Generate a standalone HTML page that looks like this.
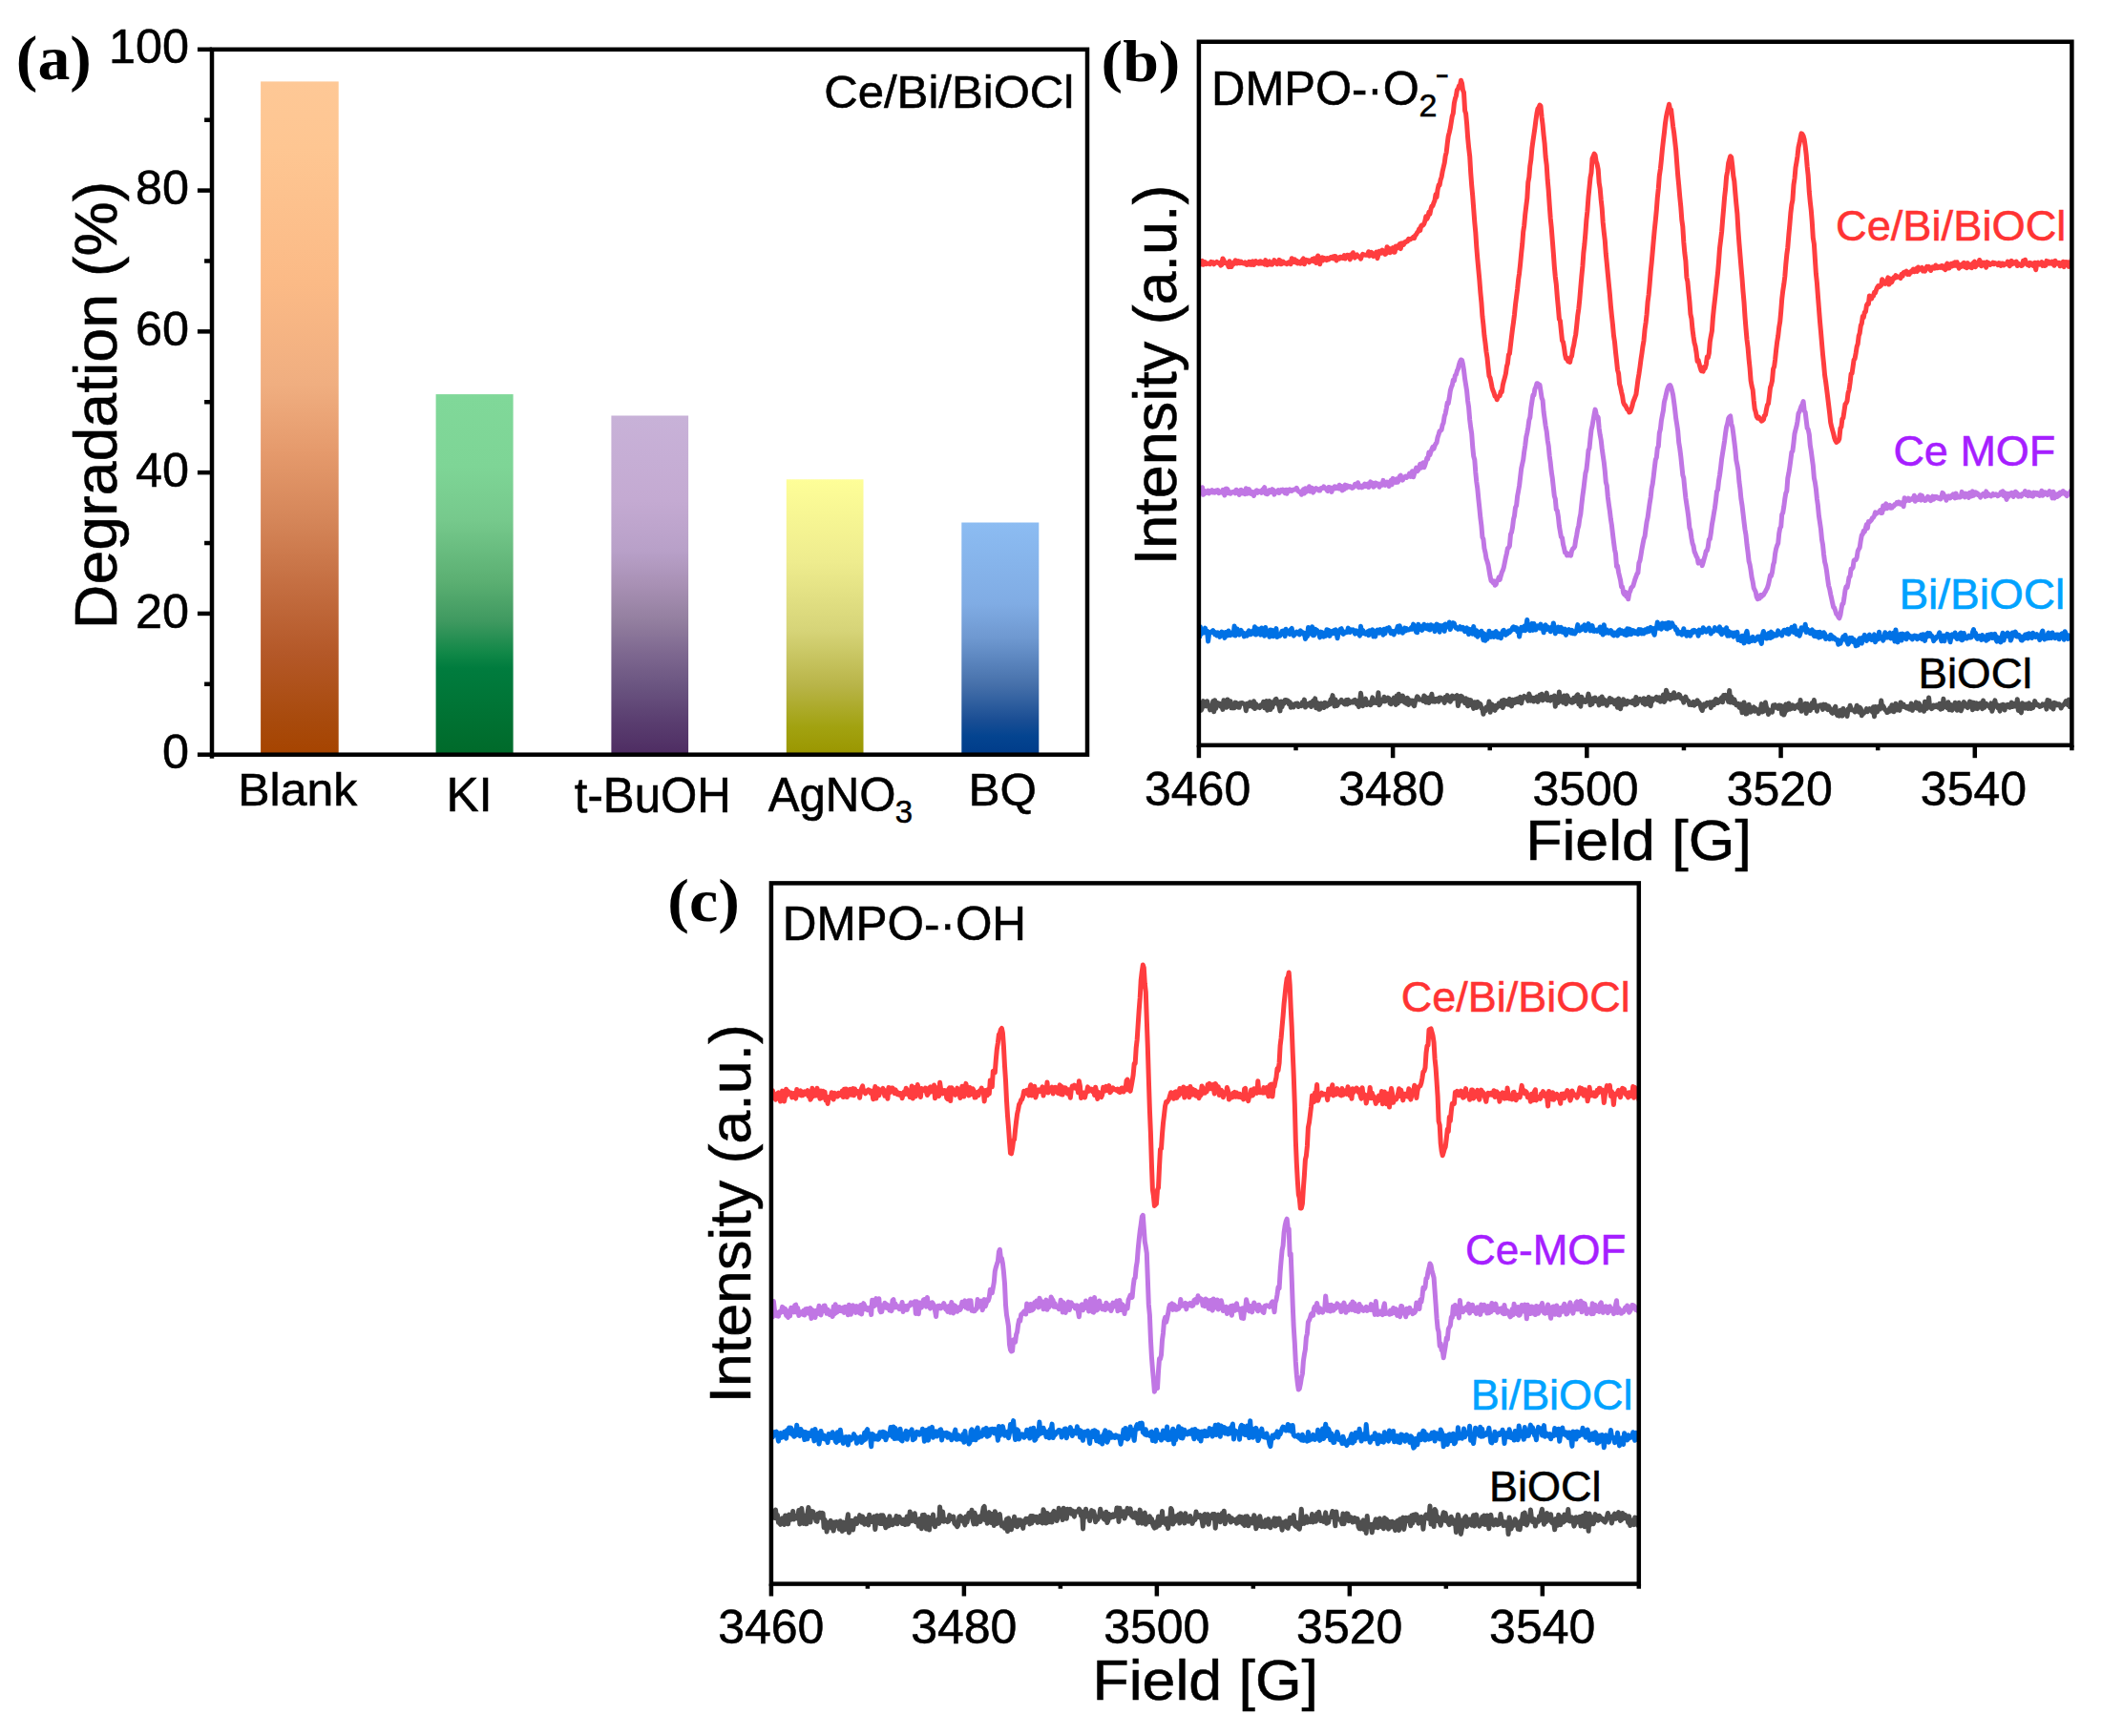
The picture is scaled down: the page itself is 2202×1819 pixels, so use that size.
<!DOCTYPE html>
<html><head><meta charset="utf-8"><title>Figure</title>
<style>html,body{margin:0;padding:0;background:#fff;}svg{display:block;}</style></head>
<body><svg width="2202" height="1819" viewBox="0 0 2202 1819">
<defs><linearGradient id="g0" x1="0" y1="0" x2="0" y2="1"><stop offset="0.000" stop-color="#FEC896"/><stop offset="0.100" stop-color="#FEC692"/><stop offset="0.300" stop-color="#FBBA86"/><stop offset="0.450" stop-color="#F0AE80"/><stop offset="0.550" stop-color="#E59A6C"/><stop offset="0.650" stop-color="#D58659"/><stop offset="0.750" stop-color="#C46E41"/><stop offset="0.850" stop-color="#B45828"/><stop offset="0.950" stop-color="#A84A0C"/><stop offset="1.000" stop-color="#A64400"/></linearGradient><linearGradient id="g1" x1="0" y1="0" x2="0" y2="1"><stop offset="0.000" stop-color="#80D899"/><stop offset="0.200" stop-color="#7ED596"/><stop offset="0.350" stop-color="#76C98C"/><stop offset="0.520" stop-color="#5BAF72"/><stop offset="0.630" stop-color="#3F9960"/><stop offset="0.720" stop-color="#108747"/><stop offset="0.760" stop-color="#007C3E"/><stop offset="1.000" stop-color="#006A2A"/></linearGradient><linearGradient id="g2" x1="0" y1="0" x2="0" y2="1"><stop offset="0.000" stop-color="#C8B2D8"/><stop offset="0.250" stop-color="#C4AAD2"/><stop offset="0.400" stop-color="#B8A0C8"/><stop offset="0.500" stop-color="#A890B4"/><stop offset="0.600" stop-color="#9480A0"/><stop offset="0.700" stop-color="#7E6890"/><stop offset="0.800" stop-color="#6A5480"/><stop offset="0.900" stop-color="#5A3E70"/><stop offset="1.000" stop-color="#4E2C62"/></linearGradient><linearGradient id="g3" x1="0" y1="0" x2="0" y2="1"><stop offset="0.000" stop-color="#FEFE98"/><stop offset="0.300" stop-color="#EEEC8E"/><stop offset="0.550" stop-color="#D6D478"/><stop offset="0.750" stop-color="#B8B448"/><stop offset="0.900" stop-color="#A2A210"/><stop offset="1.000" stop-color="#9A9600"/></linearGradient><linearGradient id="g4" x1="0" y1="0" x2="0" y2="1"><stop offset="0.000" stop-color="#8CBCF2"/><stop offset="0.350" stop-color="#80ACE4"/><stop offset="0.500" stop-color="#6E98D0"/><stop offset="0.700" stop-color="#4670AA"/><stop offset="0.850" stop-color="#1A4E94"/><stop offset="0.920" stop-color="#044490"/><stop offset="1.000" stop-color="#003C8A"/></linearGradient><clipPath id="cb"><rect x="1255.9" y="43.75" width="914.5" height="737.1"/></clipPath><clipPath id="cc"><rect x="807.9" y="925.4" width="908.9" height="734.1999999999999"/></clipPath></defs>
<rect width="2202" height="1819" fill="#fff"/>
<rect x="273.1" y="85.4" width="81.60" height="705.30" fill="url(#g0)"/>
<rect x="456.6" y="413.1" width="81.00" height="377.60" fill="url(#g1)"/>
<rect x="640.4" y="435.5" width="80.70" height="355.20" fill="url(#g2)"/>
<rect x="823.8" y="502.3" width="80.70" height="288.40" fill="url(#g3)"/>
<rect x="1007.3" y="547.5" width="81.00" height="243.20" fill="url(#g4)"/>
<rect x="222.0" y="51.8" width="917.0" height="738.9000000000001" fill="none" stroke="#000" stroke-width="4.5"/>
<line x1="222.00" y1="790.70" x2="222.00" y2="794.70" stroke="#000" stroke-width="4.5" stroke-linecap="butt"/>
<line x1="206.90" y1="790.70" x2="222.00" y2="790.70" stroke="#000" stroke-width="4.5" stroke-linecap="butt"/>
<text x="198.00" y="805.30" font-family='"Liberation Sans", Arial, sans-serif' font-size="50.4" text-anchor="end" fill="#000" font-weight="normal" stroke="#000" stroke-width="0.55" >0</text>
<line x1="206.90" y1="642.92" x2="222.00" y2="642.92" stroke="#000" stroke-width="4.5" stroke-linecap="butt"/>
<text x="198.00" y="657.52" font-family='"Liberation Sans", Arial, sans-serif' font-size="50.4" text-anchor="end" fill="#000" font-weight="normal" stroke="#000" stroke-width="0.55" >20</text>
<line x1="206.90" y1="495.14" x2="222.00" y2="495.14" stroke="#000" stroke-width="4.5" stroke-linecap="butt"/>
<text x="198.00" y="509.74" font-family='"Liberation Sans", Arial, sans-serif' font-size="50.4" text-anchor="end" fill="#000" font-weight="normal" stroke="#000" stroke-width="0.55" >40</text>
<line x1="206.90" y1="347.36" x2="222.00" y2="347.36" stroke="#000" stroke-width="4.5" stroke-linecap="butt"/>
<text x="198.00" y="361.96" font-family='"Liberation Sans", Arial, sans-serif' font-size="50.4" text-anchor="end" fill="#000" font-weight="normal" stroke="#000" stroke-width="0.55" >60</text>
<line x1="206.90" y1="199.58" x2="222.00" y2="199.58" stroke="#000" stroke-width="4.5" stroke-linecap="butt"/>
<text x="198.00" y="214.18" font-family='"Liberation Sans", Arial, sans-serif' font-size="50.4" text-anchor="end" fill="#000" font-weight="normal" stroke="#000" stroke-width="0.55" >80</text>
<line x1="206.90" y1="51.80" x2="222.00" y2="51.80" stroke="#000" stroke-width="4.5" stroke-linecap="butt"/>
<text x="198.00" y="66.40" font-family='"Liberation Sans", Arial, sans-serif' font-size="50.4" text-anchor="end" fill="#000" font-weight="normal" stroke="#000" stroke-width="0.55" >100</text>
<line x1="214.10" y1="716.81" x2="222.00" y2="716.81" stroke="#000" stroke-width="4.5" stroke-linecap="butt"/>
<line x1="214.10" y1="569.03" x2="222.00" y2="569.03" stroke="#000" stroke-width="4.5" stroke-linecap="butt"/>
<line x1="214.10" y1="421.25" x2="222.00" y2="421.25" stroke="#000" stroke-width="4.5" stroke-linecap="butt"/>
<line x1="214.10" y1="273.47" x2="222.00" y2="273.47" stroke="#000" stroke-width="4.5" stroke-linecap="butt"/>
<line x1="214.10" y1="125.69" x2="222.00" y2="125.69" stroke="#000" stroke-width="4.5" stroke-linecap="butt"/>
<polyline points="1256.4,737.6 1257.4,738.9 1258.4,744.2 1259.5,741.3 1260.5,734.6 1261.5,739.4 1262.5,737.6 1263.5,739.8 1264.6,734.7 1265.6,740.0 1266.6,740.0 1267.6,743.9 1268.6,740.2 1269.6,740.8 1270.7,734.9 1271.7,745.8 1272.7,733.7 1273.7,742.4 1274.7,738.3 1275.8,736.6 1276.8,737.3 1277.8,737.2 1278.8,740.3 1279.8,738.8 1280.9,743.4 1281.9,733.8 1282.9,739.1 1283.9,736.5 1284.9,741.3 1285.9,732.9 1287.0,738.0 1288.0,739.6 1289.0,734.7 1290.0,741.8 1291.0,739.5 1292.1,741.9 1293.1,741.7 1294.1,736.1 1295.1,736.6 1296.1,738.3 1297.2,741.0 1298.2,741.3 1299.2,736.7 1300.2,737.0 1301.2,736.5 1302.3,737.1 1303.3,738.0 1304.3,738.3 1305.3,744.7 1306.3,737.2 1307.3,737.8 1308.4,740.0 1309.4,735.8 1310.4,737.5 1311.4,738.6 1312.4,740.8 1313.5,734.7 1314.5,742.5 1315.5,737.4 1316.5,738.9 1317.5,740.9 1318.6,740.3 1319.6,741.5 1320.6,738.9 1321.6,738.3 1322.6,739.2 1323.6,735.4 1324.7,741.8 1325.7,736.0 1326.7,734.6 1327.7,744.2 1328.7,737.8 1329.8,734.7 1330.8,743.5 1331.8,737.1 1332.8,741.2 1333.8,735.6 1334.9,737.3 1335.9,733.1 1336.9,732.4 1337.9,735.1 1338.9,737.7 1340.0,740.2 1341.0,744.9 1342.0,734.9 1343.0,740.7 1344.0,736.0 1345.0,737.3 1346.1,733.4 1347.1,733.4 1348.1,735.4 1349.1,734.2 1350.1,737.6 1351.2,735.6 1352.2,741.2 1353.2,738.0 1354.2,738.0 1355.2,740.8 1356.3,739.0 1357.3,737.3 1358.3,737.2 1359.3,737.0 1360.3,740.5 1361.3,739.6 1362.4,738.4 1363.4,739.6 1364.4,735.7 1365.4,738.7 1366.4,733.1 1367.5,741.1 1368.5,737.4 1369.5,737.7 1370.5,738.8 1371.5,737.0 1372.6,736.3 1373.6,740.5 1374.6,737.3 1375.6,734.3 1376.6,738.2 1377.7,731.9 1378.7,741.7 1379.7,736.3 1380.7,736.9 1381.7,743.3 1382.7,743.0 1383.8,737.0 1384.8,738.5 1385.8,739.8 1386.8,741.5 1387.8,736.2 1388.9,736.9 1389.9,740.0 1390.9,737.2 1391.9,738.6 1392.9,738.1 1394.0,733.0 1395.0,733.8 1396.0,728.6 1397.0,735.4 1398.0,740.0 1399.0,732.9 1400.1,739.6 1401.1,738.9 1402.1,735.8 1403.1,735.9 1404.1,736.1 1405.2,733.3 1406.2,735.0 1407.2,735.6 1408.2,737.5 1409.2,738.0 1410.3,733.5 1411.3,738.0 1412.3,733.3 1413.3,735.0 1414.3,736.5 1415.3,735.3 1416.4,735.0 1417.4,736.1 1418.4,733.7 1419.4,733.3 1420.4,734.6 1421.5,737.9 1422.5,734.8 1423.5,740.6 1424.5,735.6 1425.5,726.3 1426.6,733.6 1427.6,739.7 1428.6,734.8 1429.6,733.5 1430.6,732.2 1431.7,738.5 1432.7,737.5 1433.7,736.5 1434.7,735.8 1435.7,738.7 1436.7,736.9 1437.8,730.9 1438.8,736.6 1439.8,734.8 1440.8,734.0 1441.8,736.5 1442.9,734.3 1443.9,725.7 1444.9,738.7 1445.9,737.1 1446.9,733.7 1448.0,733.0 1449.0,734.7 1450.0,730.3 1451.0,734.9 1452.0,733.3 1453.0,732.9 1454.1,731.2 1455.1,731.9 1456.1,737.0 1457.1,737.7 1458.1,735.2 1459.2,733.6 1460.2,731.2 1461.2,735.8 1462.2,738.4 1463.2,729.0 1464.3,737.0 1465.3,727.3 1466.3,732.6 1467.3,734.7 1468.3,729.6 1469.4,729.1 1470.4,734.1 1471.4,736.0 1472.4,732.1 1473.4,737.3 1474.4,731.2 1475.5,738.5 1476.5,733.7 1477.5,734.0 1478.5,735.1 1479.5,734.2 1480.6,738.6 1481.6,739.7 1482.6,734.8 1483.6,732.7 1484.6,729.8 1485.7,731.0 1486.7,733.1 1487.7,732.8 1488.7,732.9 1489.7,733.0 1490.7,734.4 1491.8,729.0 1492.8,729.9 1493.8,736.1 1494.8,735.3 1495.8,731.2 1496.9,736.5 1497.9,730.7 1498.9,731.9 1499.9,727.3 1500.9,734.9 1502.0,732.3 1503.0,735.3 1504.0,734.1 1505.0,732.2 1506.0,732.2 1507.1,735.1 1508.1,731.0 1509.1,730.9 1510.1,731.4 1511.1,733.3 1512.1,733.5 1513.2,736.3 1514.2,730.4 1515.2,734.2 1516.2,728.6 1517.2,732.1 1518.3,730.7 1519.3,735.3 1520.3,732.1 1521.3,729.1 1522.3,732.2 1523.4,731.6 1524.4,729.9 1525.4,730.2 1526.4,728.6 1527.4,739.6 1528.4,732.4 1529.5,735.2 1530.5,729.3 1531.5,729.9 1532.5,733.0 1533.5,733.5 1534.6,736.6 1535.6,731.8 1536.6,736.6 1537.6,739.8 1538.6,733.1 1539.7,738.7 1540.7,733.6 1541.7,737.7 1542.7,738.1 1543.7,742.4 1544.8,735.7 1545.8,738.6 1546.8,741.5 1547.8,735.4 1548.8,739.2 1549.8,737.0 1550.9,737.9 1551.9,742.2 1552.9,742.5 1553.9,748.3 1554.9,745.0 1556.0,745.0 1557.0,740.9 1558.0,740.6 1559.0,741.9 1560.0,734.9 1561.1,746.3 1562.1,739.5 1563.1,738.2 1564.1,739.8 1565.1,743.5 1566.1,744.3 1567.2,739.4 1568.2,741.5 1569.2,739.8 1570.2,736.8 1571.2,739.8 1572.3,739.1 1573.3,734.2 1574.3,741.5 1575.3,733.4 1576.3,738.3 1577.4,734.2 1578.4,734.6 1579.4,734.6 1580.4,738.3 1581.4,732.4 1582.5,735.2 1583.5,739.9 1584.5,733.2 1585.5,734.9 1586.5,736.6 1587.5,732.8 1588.6,735.6 1589.6,732.0 1590.6,735.7 1591.6,733.6 1592.6,730.4 1593.7,736.9 1594.7,732.3 1595.7,731.5 1596.7,729.4 1597.7,730.5 1598.8,731.3 1599.8,731.9 1600.8,734.3 1601.8,727.1 1602.8,729.8 1603.8,734.1 1604.9,731.0 1605.9,731.6 1606.9,734.9 1607.9,731.2 1608.9,731.6 1610.0,730.1 1611.0,735.4 1612.0,733.4 1613.0,728.3 1614.0,732.1 1615.1,727.3 1616.1,733.9 1617.1,732.8 1618.1,730.5 1619.1,730.0 1620.2,726.1 1621.2,733.7 1622.2,731.4 1623.2,731.0 1624.2,734.2 1625.2,730.4 1626.3,730.8 1627.3,730.7 1628.3,729.0 1629.3,740.2 1630.3,732.8 1631.4,732.6 1632.4,736.4 1633.4,724.9 1634.4,734.1 1635.4,734.4 1636.5,731.7 1637.5,736.1 1638.5,729.0 1639.5,735.0 1640.5,737.7 1641.5,728.7 1642.6,731.0 1643.6,734.8 1644.6,735.2 1645.6,733.4 1646.6,736.3 1647.7,735.9 1648.7,731.2 1649.7,734.8 1650.7,731.3 1651.7,728.9 1652.8,727.8 1653.8,737.7 1654.8,734.3 1655.8,740.2 1656.8,730.2 1657.9,733.3 1658.9,735.2 1659.9,733.7 1660.9,735.5 1661.9,734.4 1662.9,732.1 1664.0,727.1 1665.0,731.0 1666.0,738.7 1667.0,735.9 1668.0,737.6 1669.1,731.9 1670.1,733.0 1671.1,731.0 1672.1,734.7 1673.1,733.8 1674.2,735.0 1675.2,738.9 1676.2,731.4 1677.2,736.0 1678.2,729.9 1679.2,737.3 1680.3,732.9 1681.3,734.1 1682.3,734.8 1683.3,739.3 1684.3,734.6 1685.4,733.3 1686.4,731.5 1687.4,735.9 1688.4,732.7 1689.4,733.9 1690.5,735.4 1691.5,737.6 1692.5,733.7 1693.5,737.9 1694.5,741.2 1695.6,731.9 1696.6,740.3 1697.6,742.7 1698.6,734.9 1699.6,738.5 1700.6,732.8 1701.7,737.9 1702.7,736.1 1703.7,738.0 1704.7,734.5 1705.7,734.8 1706.8,736.0 1707.8,735.2 1708.8,735.5 1709.8,736.7 1710.8,734.1 1711.9,736.8 1712.9,738.6 1713.9,730.4 1714.9,737.5 1715.9,734.6 1716.9,733.4 1718.0,732.5 1719.0,733.7 1720.0,733.8 1721.0,736.7 1722.0,731.8 1723.1,738.2 1724.1,732.5 1725.1,736.6 1726.1,737.5 1727.1,730.5 1728.2,736.8 1729.2,739.8 1730.2,731.9 1731.2,734.6 1732.2,732.2 1733.2,732.5 1734.3,731.5 1735.3,730.3 1736.3,733.6 1737.3,733.8 1738.3,730.9 1739.4,735.1 1740.4,733.6 1741.4,732.3 1742.4,728.0 1743.4,735.4 1744.5,733.5 1745.5,723.3 1746.5,726.2 1747.5,727.9 1748.5,732.0 1749.6,732.8 1750.6,728.3 1751.6,729.9 1752.6,731.3 1753.6,725.7 1754.6,731.4 1755.7,729.0 1756.7,730.7 1757.7,730.4 1758.7,727.5 1759.7,728.4 1760.8,731.8 1761.8,732.5 1762.8,731.8 1763.8,736.1 1764.8,732.3 1765.9,730.2 1766.9,733.1 1767.9,733.9 1768.9,734.4 1769.9,738.4 1770.9,736.7 1772.0,738.5 1773.0,737.5 1774.0,735.4 1775.0,739.1 1776.0,735.6 1777.1,737.3 1778.1,733.8 1779.1,737.2 1780.1,736.2 1781.1,738.4 1782.2,742.8 1783.2,744.5 1784.2,740.7 1785.2,737.8 1786.2,740.3 1787.3,738.7 1788.3,736.3 1789.3,737.8 1790.3,737.2 1791.3,736.0 1792.3,741.6 1793.4,735.8 1794.4,735.6 1795.4,738.7 1796.4,734.3 1797.4,732.6 1798.5,733.1 1799.5,736.5 1800.5,735.8 1801.5,735.1 1802.5,732.5 1803.6,730.8 1804.6,735.7 1805.6,728.6 1806.6,731.8 1807.6,728.4 1808.6,730.8 1809.7,731.4 1810.7,735.3 1811.7,723.4 1812.7,736.0 1813.7,729.9 1814.8,734.0 1815.8,736.4 1816.8,732.8 1817.8,735.9 1818.8,738.7 1819.9,738.1 1820.9,737.4 1821.9,741.1 1822.9,741.8 1823.9,737.9 1825.0,746.7 1826.0,743.7 1827.0,736.1 1828.0,740.7 1829.0,748.1 1830.0,747.7 1831.1,743.9 1832.1,738.2 1833.1,742.4 1834.1,746.1 1835.1,744.2 1836.2,742.0 1837.2,740.8 1838.2,745.3 1839.2,742.3 1840.2,743.8 1841.3,744.3 1842.3,747.6 1843.3,743.3 1844.3,743.5 1845.3,737.6 1846.3,745.9 1847.4,745.3 1848.4,742.6 1849.4,736.0 1850.4,740.9 1851.4,742.7 1852.5,748.5 1853.5,744.1 1854.5,744.7 1855.5,744.7 1856.5,746.2 1857.6,738.9 1858.6,739.7 1859.6,738.7 1860.6,741.3 1861.6,741.0 1862.7,742.3 1863.7,739.0 1864.7,742.1 1865.7,739.3 1866.7,747.9 1867.7,740.2 1868.8,749.1 1869.8,746.4 1870.8,738.1 1871.8,744.3 1872.8,743.3 1873.9,737.0 1874.9,743.2 1875.9,741.1 1876.9,742.3 1877.9,738.8 1879.0,741.0 1880.0,742.4 1881.0,740.6 1882.0,739.3 1883.0,740.6 1884.0,738.2 1885.1,742.0 1886.1,733.5 1887.1,745.3 1888.1,741.1 1889.1,742.2 1890.2,743.3 1891.2,737.2 1892.2,747.4 1893.2,737.5 1894.2,742.1 1895.3,741.7 1896.3,744.5 1897.3,740.7 1898.3,736.6 1899.3,741.6 1900.4,733.5 1901.4,740.1 1902.4,739.3 1903.4,745.2 1904.4,740.0 1905.4,739.6 1906.5,738.9 1907.5,738.8 1908.5,739.9 1909.5,743.4 1910.5,738.1 1911.6,741.6 1912.6,738.3 1913.6,742.3 1914.6,743.6 1915.6,739.8 1916.7,742.0 1917.7,744.3 1918.7,746.5 1919.7,747.3 1920.7,744.4 1921.7,742.1 1922.8,740.4 1923.8,747.6 1924.8,749.5 1925.8,746.6 1926.8,750.1 1927.9,744.3 1928.9,744.5 1929.9,750.1 1930.9,742.6 1931.9,747.3 1933.0,746.6 1934.0,745.9 1935.0,750.5 1936.0,742.9 1937.0,744.1 1938.1,739.3 1939.1,742.2 1940.1,743.8 1941.1,744.1 1942.1,744.5 1943.1,745.9 1944.2,743.1 1945.2,739.2 1946.2,745.3 1947.2,746.0 1948.2,741.3 1949.3,742.4 1950.3,749.7 1951.3,747.5 1952.3,747.6 1953.3,746.3 1954.4,744.7 1955.4,742.7 1956.4,745.7 1957.4,743.4 1958.4,742.6 1959.4,743.7 1960.5,743.5 1961.5,746.2 1962.5,740.7 1963.5,750.7 1964.5,740.4 1965.6,742.0 1966.6,745.9 1967.6,740.6 1968.6,741.5 1969.6,742.9 1970.7,734.1 1971.7,741.1 1972.7,739.7 1973.7,741.7 1974.7,743.8 1975.8,744.1 1976.8,746.5 1977.8,746.3 1978.8,745.0 1979.8,741.8 1980.8,744.9 1981.9,738.8 1982.9,741.4 1983.9,745.8 1984.9,743.8 1985.9,737.3 1987.0,739.6 1988.0,743.9 1989.0,743.0 1990.0,744.3 1991.0,735.9 1992.1,737.3 1993.1,740.2 1994.1,738.1 1995.1,740.8 1996.1,740.9 1997.1,741.8 1998.2,740.4 1999.2,742.4 2000.2,743.0 2001.2,741.1 2002.2,737.1 2003.3,744.4 2004.3,741.3 2005.3,741.9 2006.3,741.1 2007.3,735.9 2008.4,742.3 2009.4,738.6 2010.4,737.0 2011.4,744.3 2012.4,739.6 2013.5,741.3 2014.5,743.1 2015.5,745.2 2016.5,735.2 2017.5,738.3 2018.5,742.4 2019.6,738.5 2020.6,730.9 2021.6,740.8 2022.6,741.0 2023.6,742.7 2024.7,741.0 2025.7,739.0 2026.7,740.9 2027.7,740.2 2028.7,738.8 2029.8,741.0 2030.8,741.3 2031.8,737.3 2032.8,743.2 2033.8,742.6 2034.8,742.5 2035.9,732.2 2036.9,740.5 2037.9,739.8 2038.9,737.2 2039.9,741.8 2041.0,735.7 2042.0,743.7 2043.0,741.2 2044.0,738.6 2045.0,744.2 2046.1,741.4 2047.1,741.0 2048.1,736.2 2049.1,741.6 2050.1,744.1 2051.1,743.2 2052.2,736.2 2053.2,744.0 2054.2,744.7 2055.2,742.4 2056.2,738.8 2057.3,735.5 2058.3,737.3 2059.3,738.2 2060.3,740.7 2061.3,741.5 2062.4,737.7 2063.4,735.0 2064.4,738.6 2065.4,735.9 2066.4,743.7 2067.5,736.2 2068.5,741.1 2069.5,742.1 2070.5,736.8 2071.5,742.6 2072.5,739.2 2073.6,737.3 2074.6,736.9 2075.6,739.9 2076.6,742.7 2077.6,734.0 2078.7,741.4 2079.7,739.1 2080.7,737.3 2081.7,739.2 2082.7,739.5 2083.8,739.4 2084.8,741.9 2085.8,736.9 2086.8,745.3 2087.8,742.1 2088.8,737.8 2089.9,733.9 2090.9,739.4 2091.9,738.3 2092.9,741.7 2093.9,741.6 2095.0,745.1 2096.0,739.1 2097.0,741.8 2098.0,738.2 2099.0,738.4 2100.1,744.0 2101.1,739.1 2102.1,739.2 2103.1,738.4 2104.1,740.4 2105.2,741.2 2106.2,739.1 2107.2,736.1 2108.2,740.5 2109.2,737.1 2110.2,738.4 2111.3,740.1 2112.3,740.2 2113.3,732.7 2114.3,744.4 2115.3,741.8 2116.4,745.1 2117.4,746.8 2118.4,736.7 2119.4,737.8 2120.4,740.1 2121.5,742.1 2122.5,737.9 2123.5,738.5 2124.5,742.5 2125.5,736.8 2126.5,740.0 2127.6,742.5 2128.6,738.6 2129.6,741.6 2130.6,739.0 2131.6,734.6 2132.7,737.7 2133.7,738.7 2134.7,738.2 2135.7,739.3 2136.7,740.4 2137.8,740.0 2138.8,739.7 2139.8,737.9 2140.8,738.5 2141.8,738.0 2142.9,737.4 2143.9,743.1 2144.9,733.5 2145.9,739.7 2146.9,734.3 2147.9,737.3 2149.0,741.3 2150.0,738.1 2151.0,743.0 2152.0,736.2 2153.0,738.1 2154.1,737.1 2155.1,738.9 2156.1,737.9 2157.1,737.7 2158.1,739.1 2159.2,742.0 2160.2,739.2 2161.2,738.9 2162.2,737.9 2163.2,736.7 2164.2,734.5 2165.3,735.6 2166.3,738.8 2167.3,733.1 2168.3,740.6 2169.3,737.4 2170.4,735.9 2171.4,737.0 2172.4,740.5" fill="none" stroke="#4F4F4F" stroke-width="5.0" stroke-linejoin="round" clip-path="url(#cb)"/>
<polyline points="1256.4,668.7 1257.4,656.8 1258.4,664.5 1259.5,661.9 1260.5,662.2 1261.5,662.8 1262.5,658.1 1263.5,662.8 1264.6,661.1 1265.6,672.0 1266.6,664.0 1267.6,662.5 1268.6,662.7 1269.6,661.6 1270.7,660.6 1271.7,662.4 1272.7,664.6 1273.7,662.8 1274.7,665.9 1275.8,662.8 1276.8,663.4 1277.8,667.4 1278.8,664.8 1279.8,662.0 1280.9,662.9 1281.9,664.8 1282.9,668.4 1283.9,662.6 1284.9,662.7 1285.9,665.9 1287.0,661.0 1288.0,662.6 1289.0,665.6 1290.0,664.8 1291.0,663.6 1292.1,665.1 1293.1,656.0 1294.1,666.0 1295.1,660.8 1296.1,659.0 1297.2,664.0 1298.2,665.1 1299.2,662.1 1300.2,660.5 1301.2,663.3 1302.3,663.1 1303.3,666.9 1304.3,665.2 1305.3,663.8 1306.3,666.1 1307.3,662.7 1308.4,660.8 1309.4,664.8 1310.4,664.7 1311.4,662.7 1312.4,661.2 1313.5,663.8 1314.5,656.7 1315.5,665.0 1316.5,664.5 1317.5,658.9 1318.6,663.4 1319.6,660.7 1320.6,665.1 1321.6,657.9 1322.6,660.8 1323.6,665.0 1324.7,666.2 1325.7,657.5 1326.7,661.9 1327.7,664.0 1328.7,661.6 1329.8,667.3 1330.8,660.0 1331.8,664.0 1332.8,660.4 1333.8,666.8 1334.9,663.0 1335.9,662.1 1336.9,658.6 1337.9,667.5 1338.9,665.0 1340.0,665.0 1341.0,666.0 1342.0,664.0 1343.0,661.4 1344.0,661.0 1345.0,661.0 1346.1,666.6 1347.1,659.2 1348.1,661.5 1349.1,662.2 1350.1,663.6 1351.2,664.5 1352.2,659.7 1353.2,658.5 1354.2,663.0 1355.2,666.1 1356.3,664.9 1357.3,663.5 1358.3,662.1 1359.3,663.7 1360.3,662.3 1361.3,665.0 1362.4,660.8 1363.4,663.2 1364.4,662.6 1365.4,664.3 1366.4,663.4 1367.5,669.5 1368.5,666.7 1369.5,666.7 1370.5,657.5 1371.5,661.9 1372.6,661.2 1373.6,664.1 1374.6,656.8 1375.6,665.8 1376.6,665.5 1377.7,659.3 1378.7,660.1 1379.7,660.6 1380.7,662.8 1381.7,664.3 1382.7,667.9 1383.8,662.1 1384.8,664.6 1385.8,663.0 1386.8,667.1 1387.8,664.5 1388.9,666.1 1389.9,659.7 1390.9,662.0 1391.9,660.3 1392.9,666.4 1394.0,664.1 1395.0,661.6 1396.0,661.2 1397.0,663.6 1398.0,660.5 1399.0,659.9 1400.1,663.5 1401.1,668.7 1402.1,661.6 1403.1,660.8 1404.1,659.2 1405.2,658.7 1406.2,663.5 1407.2,664.4 1408.2,662.1 1409.2,663.0 1410.3,662.4 1411.3,662.4 1412.3,658.1 1413.3,660.8 1414.3,662.3 1415.3,659.9 1416.4,660.7 1417.4,659.8 1418.4,661.0 1419.4,664.1 1420.4,660.8 1421.5,661.4 1422.5,663.9 1423.5,663.4 1424.5,666.1 1425.5,656.3 1426.6,663.9 1427.6,660.4 1428.6,662.0 1429.6,663.8 1430.6,664.4 1431.7,664.2 1432.7,661.9 1433.7,665.7 1434.7,660.7 1435.7,661.1 1436.7,663.5 1437.8,659.9 1438.8,666.9 1439.8,664.0 1440.8,666.9 1441.8,661.2 1442.9,660.2 1443.9,661.6 1444.9,663.1 1445.9,659.6 1446.9,662.1 1448.0,661.0 1449.0,665.2 1450.0,659.3 1451.0,663.7 1452.0,659.3 1453.0,658.4 1454.1,659.0 1455.1,657.7 1456.1,661.2 1457.1,663.4 1458.1,661.2 1459.2,662.3 1460.2,664.9 1461.2,661.3 1462.2,661.1 1463.2,659.8 1464.3,656.3 1465.3,662.4 1466.3,655.8 1467.3,662.0 1468.3,660.3 1469.4,663.2 1470.4,660.0 1471.4,658.0 1472.4,661.0 1473.4,658.6 1474.4,659.5 1475.5,660.0 1476.5,659.5 1477.5,659.3 1478.5,657.6 1479.5,659.2 1480.6,654.1 1481.6,659.2 1482.6,656.4 1483.6,662.4 1484.6,662.7 1485.7,654.2 1486.7,659.6 1487.7,658.8 1488.7,656.4 1489.7,660.4 1490.7,657.7 1491.8,654.2 1492.8,658.0 1493.8,658.2 1494.8,658.7 1495.8,655.1 1496.9,659.8 1497.9,659.9 1498.9,654.8 1499.9,655.9 1500.9,657.3 1502.0,655.8 1503.0,661.6 1504.0,657.4 1505.0,654.1 1506.0,654.5 1507.1,656.2 1508.1,662.2 1509.1,655.6 1510.1,656.2 1511.1,657.0 1512.1,655.5 1513.2,661.4 1514.2,653.9 1515.2,657.2 1516.2,655.6 1517.2,656.7 1518.3,652.0 1519.3,659.6 1520.3,654.7 1521.3,655.1 1522.3,652.7 1523.4,653.3 1524.4,656.9 1525.4,658.1 1526.4,657.8 1527.4,659.2 1528.4,658.2 1529.5,656.7 1530.5,659.1 1531.5,658.8 1532.5,657.3 1533.5,659.8 1534.6,661.6 1535.6,659.2 1536.6,658.0 1537.6,661.1 1538.6,664.5 1539.7,659.4 1540.7,660.0 1541.7,660.2 1542.7,664.1 1543.7,656.6 1544.8,662.8 1545.8,665.4 1546.8,660.7 1547.8,667.2 1548.8,665.2 1549.8,662.8 1550.9,665.2 1551.9,661.2 1552.9,664.1 1553.9,670.7 1554.9,663.9 1556.0,671.3 1557.0,666.5 1558.0,669.5 1559.0,667.1 1560.0,661.2 1561.1,665.5 1562.1,667.4 1563.1,663.8 1564.1,663.1 1565.1,667.4 1566.1,664.6 1567.2,661.6 1568.2,664.0 1569.2,667.8 1570.2,664.0 1571.2,667.4 1572.3,668.6 1573.3,664.5 1574.3,661.1 1575.3,660.3 1576.3,663.3 1577.4,665.4 1578.4,663.5 1579.4,663.9 1580.4,661.0 1581.4,662.7 1582.5,660.4 1583.5,660.5 1584.5,657.8 1585.5,656.8 1586.5,659.4 1587.5,657.6 1588.6,657.7 1589.6,661.7 1590.6,659.4 1591.6,667.0 1592.6,661.6 1593.7,657.3 1594.7,660.7 1595.7,659.4 1596.7,656.4 1597.7,660.8 1598.8,655.7 1599.8,649.5 1600.8,659.3 1601.8,655.5 1602.8,660.7 1603.8,655.0 1604.9,653.5 1605.9,660.4 1606.9,653.5 1607.9,656.7 1608.9,659.9 1610.0,656.3 1611.0,655.8 1612.0,656.3 1613.0,658.2 1614.0,654.1 1615.1,657.9 1616.1,658.0 1617.1,662.8 1618.1,656.1 1619.1,654.9 1620.2,659.5 1621.2,656.9 1622.2,659.0 1623.2,658.9 1624.2,661.8 1625.2,657.4 1626.3,659.1 1627.3,652.9 1628.3,657.5 1629.3,663.9 1630.3,658.3 1631.4,658.3 1632.4,657.1 1633.4,661.8 1634.4,660.9 1635.4,657.4 1636.5,662.3 1637.5,661.3 1638.5,662.7 1639.5,659.1 1640.5,665.4 1641.5,662.0 1642.6,660.6 1643.6,659.6 1644.6,660.4 1645.6,663.2 1646.6,660.3 1647.7,663.7 1648.7,662.2 1649.7,664.0 1650.7,662.3 1651.7,659.7 1652.8,654.6 1653.8,660.0 1654.8,660.9 1655.8,658.9 1656.8,659.6 1657.9,656.6 1658.9,656.5 1659.9,654.8 1660.9,660.7 1661.9,657.4 1662.9,655.7 1664.0,653.6 1665.0,656.7 1666.0,660.9 1667.0,658.5 1668.0,655.5 1669.1,661.2 1670.1,661.4 1671.1,660.4 1672.1,660.1 1673.1,661.3 1674.2,659.9 1675.2,660.8 1676.2,657.0 1677.2,663.1 1678.2,660.1 1679.2,665.0 1680.3,654.7 1681.3,662.1 1682.3,663.1 1683.3,659.9 1684.3,662.3 1685.4,663.3 1686.4,663.1 1687.4,660.5 1688.4,661.7 1689.4,665.0 1690.5,665.9 1691.5,663.0 1692.5,663.1 1693.5,663.6 1694.5,665.9 1695.6,660.6 1696.6,660.0 1697.6,663.8 1698.6,660.7 1699.6,662.1 1700.6,663.8 1701.7,664.8 1702.7,660.7 1703.7,665.6 1704.7,658.8 1705.7,664.7 1706.8,659.1 1707.8,659.7 1708.8,664.6 1709.8,661.7 1710.8,660.5 1711.9,661.3 1712.9,663.5 1713.9,661.9 1714.9,661.8 1715.9,664.4 1716.9,659.6 1718.0,660.0 1719.0,659.7 1720.0,663.9 1721.0,663.2 1722.0,663.8 1723.1,660.1 1724.1,659.6 1725.1,662.1 1726.1,658.6 1727.1,661.6 1728.2,661.2 1729.2,657.3 1730.2,658.8 1731.2,658.5 1732.2,663.1 1733.2,665.2 1734.3,658.0 1735.3,658.1 1736.3,652.0 1737.3,658.2 1738.3,657.5 1739.4,654.5 1740.4,659.2 1741.4,652.9 1742.4,656.2 1743.4,657.0 1744.5,653.2 1745.5,658.6 1746.5,659.0 1747.5,652.5 1748.5,652.4 1749.6,657.6 1750.6,655.9 1751.6,652.9 1752.6,655.5 1753.6,656.4 1754.6,656.9 1755.7,660.1 1756.7,659.6 1757.7,664.0 1758.7,663.6 1759.7,662.5 1760.8,664.1 1761.8,665.1 1762.8,663.8 1763.8,658.8 1764.8,664.2 1765.9,662.2 1766.9,666.2 1767.9,662.2 1768.9,663.3 1769.9,662.7 1770.9,666.2 1772.0,662.2 1773.0,661.0 1774.0,662.4 1775.0,660.4 1776.0,661.9 1777.1,661.4 1778.1,662.0 1779.1,666.3 1780.1,660.1 1781.1,661.2 1782.2,660.5 1783.2,662.7 1784.2,657.8 1785.2,659.0 1786.2,660.6 1787.3,662.0 1788.3,660.4 1789.3,659.2 1790.3,658.1 1791.3,661.7 1792.3,664.0 1793.4,661.1 1794.4,660.7 1795.4,661.3 1796.4,657.6 1797.4,659.2 1798.5,659.3 1799.5,660.8 1800.5,659.9 1801.5,656.8 1802.5,663.0 1803.6,664.6 1804.6,659.7 1805.6,661.6 1806.6,661.6 1807.6,663.3 1808.6,657.7 1809.7,666.2 1810.7,661.2 1811.7,666.1 1812.7,663.5 1813.7,662.8 1814.8,663.9 1815.8,667.1 1816.8,663.0 1817.8,664.8 1818.8,665.0 1819.9,662.3 1820.9,670.6 1821.9,669.2 1822.9,668.0 1823.9,671.5 1825.0,666.3 1826.0,668.9 1827.0,673.9 1828.0,672.2 1829.0,664.0 1830.0,661.3 1831.1,667.3 1832.1,672.8 1833.1,668.7 1834.1,669.3 1835.1,671.4 1836.2,667.4 1837.2,670.1 1838.2,671.4 1839.2,670.4 1840.2,670.0 1841.3,667.2 1842.3,669.9 1843.3,667.2 1844.3,671.4 1845.3,674.4 1846.3,665.5 1847.4,661.5 1848.4,665.8 1849.4,667.6 1850.4,669.0 1851.4,668.8 1852.5,663.7 1853.5,663.4 1854.5,668.5 1855.5,662.1 1856.5,667.5 1857.6,663.9 1858.6,666.3 1859.6,665.9 1860.6,665.9 1861.6,665.8 1862.7,660.9 1863.7,664.1 1864.7,663.2 1865.7,663.7 1866.7,665.9 1867.7,661.8 1868.8,660.5 1869.8,660.2 1870.8,661.1 1871.8,663.7 1872.8,659.4 1873.9,664.4 1874.9,661.9 1875.9,660.4 1876.9,657.4 1877.9,661.3 1879.0,662.4 1880.0,655.8 1881.0,663.4 1882.0,664.5 1883.0,661.0 1884.0,661.4 1885.1,666.3 1886.1,663.2 1887.1,657.7 1888.1,660.0 1889.1,659.7 1890.2,659.8 1891.2,654.2 1892.2,662.5 1893.2,659.1 1894.2,661.4 1895.3,660.9 1896.3,663.8 1897.3,661.0 1898.3,660.0 1899.3,663.8 1900.4,666.3 1901.4,662.1 1902.4,666.8 1903.4,664.3 1904.4,662.5 1905.4,668.1 1906.5,662.3 1907.5,667.4 1908.5,663.8 1909.5,666.7 1910.5,662.7 1911.6,664.1 1912.6,669.5 1913.6,667.6 1914.6,667.7 1915.6,666.8 1916.7,669.6 1917.7,665.2 1918.7,666.3 1919.7,669.1 1920.7,667.7 1921.7,668.3 1922.8,670.2 1923.8,670.3 1924.8,670.2 1925.8,675.3 1926.8,673.6 1927.9,674.2 1928.9,670.9 1929.9,669.7 1930.9,667.2 1931.9,670.0 1933.0,665.5 1934.0,669.3 1935.0,672.8 1936.0,674.9 1937.0,673.2 1938.1,668.4 1939.1,671.8 1940.1,668.4 1941.1,672.5 1942.1,670.0 1943.1,672.4 1944.2,676.8 1945.2,672.4 1946.2,676.0 1947.2,670.3 1948.2,668.8 1949.3,673.1 1950.3,674.0 1951.3,667.9 1952.3,669.5 1953.3,665.4 1954.4,668.5 1955.4,671.3 1956.4,668.6 1957.4,667.3 1958.4,665.0 1959.4,669.5 1960.5,670.5 1961.5,669.9 1962.5,668.9 1963.5,664.9 1964.5,672.7 1965.6,667.9 1966.6,667.6 1967.6,669.8 1968.6,662.2 1969.6,667.6 1970.7,667.3 1971.7,668.6 1972.7,671.1 1973.7,668.8 1974.7,662.8 1975.8,666.6 1976.8,668.0 1977.8,667.9 1978.8,664.2 1979.8,663.2 1980.8,668.9 1981.9,668.4 1982.9,667.4 1983.9,663.0 1984.9,672.1 1985.9,660.0 1987.0,666.6 1988.0,672.9 1989.0,667.1 1990.0,668.1 1991.0,664.4 1992.1,671.0 1993.1,664.1 1994.1,668.2 1995.1,667.9 1996.1,664.8 1997.1,669.8 1998.2,663.8 1999.2,665.7 2000.2,667.4 2001.2,666.4 2002.2,668.7 2003.3,669.9 2004.3,666.7 2005.3,666.1 2006.3,666.2 2007.3,666.5 2008.4,669.6 2009.4,666.9 2010.4,668.6 2011.4,667.3 2012.4,665.3 2013.5,669.7 2014.5,664.8 2015.5,667.5 2016.5,671.4 2017.5,664.7 2018.5,667.4 2019.6,663.4 2020.6,666.2 2021.6,663.6 2022.6,666.6 2023.6,666.1 2024.7,667.8 2025.7,671.6 2026.7,668.2 2027.7,669.2 2028.7,667.4 2029.8,666.9 2030.8,665.3 2031.8,662.8 2032.8,667.7 2033.8,671.7 2034.8,668.7 2035.9,666.1 2036.9,671.8 2037.9,666.4 2038.9,665.9 2039.9,664.3 2041.0,665.0 2042.0,666.9 2043.0,672.7 2044.0,667.0 2045.0,664.8 2046.1,665.9 2047.1,666.9 2048.1,663.0 2049.1,667.8 2050.1,669.3 2051.1,668.3 2052.2,669.1 2053.2,664.1 2054.2,663.1 2055.2,670.8 2056.2,670.3 2057.3,663.5 2058.3,668.0 2059.3,667.6 2060.3,668.9 2061.3,668.0 2062.4,666.2 2063.4,668.0 2064.4,667.9 2065.4,667.4 2066.4,662.7 2067.5,659.7 2068.5,665.4 2069.5,663.2 2070.5,668.1 2071.5,669.3 2072.5,668.1 2073.6,666.5 2074.6,667.6 2075.6,670.5 2076.6,665.5 2077.6,669.8 2078.7,669.3 2079.7,668.1 2080.7,671.2 2081.7,665.5 2082.7,669.9 2083.8,665.0 2084.8,665.4 2085.8,664.6 2086.8,668.5 2087.8,664.9 2088.8,667.5 2089.9,664.4 2090.9,670.1 2091.9,672.1 2092.9,667.9 2093.9,671.6 2095.0,668.8 2096.0,672.9 2097.0,667.6 2098.0,663.2 2099.0,671.1 2100.1,666.9 2101.1,664.6 2102.1,665.5 2103.1,663.0 2104.1,666.8 2105.2,664.4 2106.2,671.1 2107.2,668.9 2108.2,662.9 2109.2,663.2 2110.2,665.7 2111.3,662.1 2112.3,666.8 2113.3,667.0 2114.3,665.1 2115.3,665.7 2116.4,668.4 2117.4,670.8 2118.4,671.0 2119.4,667.1 2120.4,669.3 2121.5,665.1 2122.5,668.1 2123.5,664.5 2124.5,668.9 2125.5,663.8 2126.5,664.4 2127.6,666.9 2128.6,668.4 2129.6,663.2 2130.6,665.5 2131.6,667.2 2132.7,667.5 2133.7,664.7 2134.7,667.1 2135.7,666.1 2136.7,670.5 2137.8,668.2 2138.8,663.3 2139.8,661.0 2140.8,667.0 2141.8,669.8 2142.9,667.2 2143.9,669.0 2144.9,665.4 2145.9,663.1 2146.9,668.6 2147.9,666.9 2149.0,668.4 2150.0,663.0 2151.0,667.1 2152.0,665.0 2153.0,668.7 2154.1,665.0 2155.1,665.0 2156.1,665.0 2157.1,669.8 2158.1,666.6 2159.2,664.5 2160.2,663.8 2161.2,663.7 2162.2,670.2 2163.2,661.7 2164.2,664.2 2165.3,668.0 2166.3,669.4 2167.3,665.9 2168.3,668.4 2169.3,668.3 2170.4,668.8 2171.4,666.4 2172.4,670.5" fill="none" stroke="#0071E5" stroke-width="5.0" stroke-linejoin="round" clip-path="url(#cb)"/>
<polyline points="1256.4,515.4 1257.4,514.1 1258.4,514.3 1259.5,510.7 1260.5,518.3 1261.5,517.2 1262.5,514.5 1263.5,516.5 1264.6,515.6 1265.6,514.1 1266.6,516.9 1267.6,514.6 1268.6,514.6 1269.6,513.7 1270.7,516.0 1271.7,515.0 1272.7,516.2 1273.7,514.1 1274.7,515.4 1275.8,513.6 1276.8,516.7 1277.8,515.5 1278.8,515.8 1279.8,515.9 1280.9,513.4 1281.9,516.6 1282.9,518.9 1283.9,512.3 1284.9,512.1 1285.9,512.5 1287.0,516.7 1288.0,515.4 1289.0,517.2 1290.0,516.5 1291.0,515.6 1292.1,515.7 1293.1,514.9 1294.1,516.8 1295.1,513.2 1296.1,514.5 1297.2,515.7 1298.2,518.5 1299.2,513.8 1300.2,513.3 1301.2,514.2 1302.3,517.0 1303.3,514.8 1304.3,517.6 1305.3,511.8 1306.3,517.2 1307.3,517.1 1308.4,512.6 1309.4,515.5 1310.4,517.4 1311.4,515.3 1312.4,517.0 1313.5,519.4 1314.5,515.7 1315.5,514.6 1316.5,513.8 1317.5,516.3 1318.6,514.8 1319.6,514.8 1320.6,514.9 1321.6,516.3 1322.6,513.2 1323.6,512.3 1324.7,510.7 1325.7,517.2 1326.7,515.2 1327.7,517.7 1328.7,515.0 1329.8,513.7 1330.8,515.8 1331.8,514.8 1332.8,512.7 1333.8,513.4 1334.9,518.1 1335.9,515.6 1336.9,515.7 1337.9,514.4 1338.9,513.6 1340.0,516.5 1341.0,514.6 1342.0,513.5 1343.0,514.6 1344.0,513.1 1345.0,515.1 1346.1,516.7 1347.1,513.2 1348.1,517.2 1349.1,513.4 1350.1,514.8 1351.2,513.0 1352.2,514.1 1353.2,514.5 1354.2,513.6 1355.2,513.1 1356.3,513.1 1357.3,512.7 1358.3,511.3 1359.3,513.6 1360.3,514.8 1361.3,515.6 1362.4,515.1 1363.4,518.3 1364.4,514.4 1365.4,512.9 1366.4,517.0 1367.5,511.7 1368.5,515.3 1369.5,511.8 1370.5,514.1 1371.5,509.8 1372.6,514.9 1373.6,512.9 1374.6,511.4 1375.6,516.1 1376.6,514.4 1377.7,513.0 1378.7,511.6 1379.7,512.8 1380.7,512.5 1381.7,514.0 1382.7,514.1 1383.8,511.4 1384.8,511.5 1385.8,511.5 1386.8,509.9 1387.8,511.2 1388.9,512.0 1389.9,513.4 1390.9,514.4 1391.9,510.5 1392.9,512.9 1394.0,511.0 1395.0,515.4 1396.0,511.5 1397.0,512.4 1398.0,509.8 1399.0,509.9 1400.1,511.7 1401.1,510.5 1402.1,511.8 1403.1,508.2 1404.1,512.2 1405.2,509.3 1406.2,513.9 1407.2,510.2 1408.2,512.6 1409.2,508.1 1410.3,511.3 1411.3,508.8 1412.3,509.5 1413.3,510.3 1414.3,509.6 1415.3,510.6 1416.4,511.4 1417.4,511.1 1418.4,509.7 1419.4,507.4 1420.4,508.3 1421.5,509.3 1422.5,505.7 1423.5,510.8 1424.5,509.0 1425.5,508.9 1426.6,510.9 1427.6,510.3 1428.6,509.4 1429.6,507.1 1430.6,509.4 1431.7,509.4 1432.7,507.1 1433.7,510.5 1434.7,509.4 1435.7,504.9 1436.7,508.6 1437.8,506.0 1438.8,510.2 1439.8,509.5 1440.8,506.0 1441.8,506.3 1442.9,507.9 1443.9,507.2 1444.9,510.3 1445.9,508.7 1446.9,506.8 1448.0,508.2 1449.0,503.4 1450.0,507.4 1451.0,508.3 1452.0,506.2 1453.0,505.1 1454.1,507.2 1455.1,509.5 1456.1,506.1 1457.1,503.4 1458.1,507.7 1459.2,501.4 1460.2,505.3 1461.2,503.0 1462.2,505.4 1463.2,501.8 1464.3,505.3 1465.3,503.0 1466.3,499.0 1467.3,498.1 1468.3,500.7 1469.4,503.1 1470.4,500.6 1471.4,500.1 1472.4,499.1 1473.4,500.4 1474.4,499.4 1475.5,498.7 1476.5,496.0 1477.5,499.4 1478.5,499.2 1479.5,493.8 1480.6,499.7 1481.6,496.2 1482.6,493.4 1483.6,490.1 1484.6,493.8 1485.7,492.6 1486.7,489.5 1487.7,486.2 1488.7,490.3 1489.7,486.0 1490.7,485.0 1491.8,489.7 1492.8,487.2 1493.8,483.9 1494.8,480.0 1495.8,480.7 1496.9,474.0 1497.9,476.7 1498.9,473.6 1499.9,470.8 1500.9,468.4 1502.0,470.1 1503.0,467.2 1504.0,465.0 1505.0,463.9 1506.0,458.5 1507.1,455.2 1508.1,451.6 1509.1,451.3 1510.1,450.2 1511.1,445.3 1512.1,443.2 1513.2,436.1 1514.2,433.3 1515.2,428.1 1516.2,422.1 1517.2,422.7 1518.3,416.5 1519.3,409.5 1520.3,405.8 1521.3,403.6 1522.3,398.2 1523.4,398.9 1524.4,393.3 1525.4,392.4 1526.4,388.5 1527.4,386.6 1528.4,382.2 1529.5,378.9 1530.5,377.0 1531.5,377.3 1532.5,381.9 1533.5,388.0 1534.6,397.2 1535.6,403.4 1536.6,409.7 1537.6,420.1 1538.6,426.7 1539.7,440.0 1540.7,448.0 1541.7,454.4 1542.7,468.1 1543.7,478.1 1544.8,481.7 1545.8,494.9 1546.8,505.0 1547.8,511.9 1548.8,522.6 1549.8,531.7 1550.9,542.9 1551.9,550.8 1552.9,562.8 1553.9,564.8 1554.9,574.5 1556.0,579.1 1557.0,585.4 1558.0,588.2 1559.0,591.7 1560.0,597.9 1561.1,604.3 1562.1,608.7 1563.1,609.1 1564.1,610.5 1565.1,608.9 1566.1,613.2 1567.2,612.5 1568.2,608.4 1569.2,608.1 1570.2,604.8 1571.2,607.4 1572.3,603.2 1573.3,599.7 1574.3,597.7 1575.3,594.5 1576.3,589.4 1577.4,584.0 1578.4,579.8 1579.4,574.5 1580.4,573.8 1581.4,572.0 1582.5,559.8 1583.5,557.7 1584.5,552.5 1585.5,544.2 1586.5,540.3 1587.5,531.8 1588.6,529.6 1589.6,519.9 1590.6,514.6 1591.6,508.9 1592.6,500.2 1593.7,490.9 1594.7,486.3 1595.7,481.8 1596.7,473.4 1597.7,467.1 1598.8,457.9 1599.8,453.5 1600.8,447.9 1601.8,440.3 1602.8,437.4 1603.8,427.6 1604.9,420.5 1605.9,414.1 1606.9,414.1 1607.9,407.6 1608.9,405.7 1610.0,401.7 1611.0,402.0 1612.0,402.7 1613.0,403.4 1614.0,409.6 1615.1,417.0 1616.1,419.4 1617.1,431.4 1618.1,438.6 1619.1,446.1 1620.2,452.1 1621.2,461.3 1622.2,467.1 1623.2,477.6 1624.2,484.7 1625.2,494.2 1626.3,501.2 1627.3,510.5 1628.3,519.8 1629.3,522.7 1630.3,533.8 1631.4,535.3 1632.4,541.4 1633.4,551.0 1634.4,556.8 1635.4,562.6 1636.5,563.4 1637.5,570.3 1638.5,574.2 1639.5,579.1 1640.5,579.0 1641.5,581.8 1642.6,580.1 1643.6,581.9 1644.6,581.0 1645.6,582.0 1646.6,577.1 1647.7,574.9 1648.7,574.2 1649.7,572.6 1650.7,565.7 1651.7,560.7 1652.8,554.1 1653.8,550.7 1654.8,543.4 1655.8,538.8 1656.8,529.2 1657.9,519.6 1658.9,512.7 1659.9,504.1 1660.9,495.7 1661.9,492.3 1662.9,483.5 1664.0,471.9 1665.0,469.7 1666.0,459.5 1667.0,450.4 1668.0,446.4 1669.1,440.0 1670.1,434.1 1671.1,429.1 1672.1,433.6 1673.1,437.6 1674.2,437.4 1675.2,449.0 1676.2,455.8 1677.2,461.1 1678.2,469.9 1679.2,477.2 1680.3,484.5 1681.3,493.8 1682.3,505.4 1683.3,508.9 1684.3,520.5 1685.4,528.8 1686.4,535.6 1687.4,544.2 1688.4,550.4 1689.4,559.1 1690.5,568.1 1691.5,575.7 1692.5,580.2 1693.5,593.6 1694.5,593.0 1695.6,599.7 1696.6,604.0 1697.6,608.1 1698.6,615.0 1699.6,615.1 1700.6,621.1 1701.7,622.9 1702.7,620.4 1703.7,625.0 1704.7,622.1 1705.7,627.8 1706.8,621.4 1707.8,619.2 1708.8,615.9 1709.8,615.0 1710.8,613.9 1711.9,610.3 1712.9,606.8 1713.9,604.3 1714.9,601.3 1715.9,600.2 1716.9,590.0 1718.0,587.3 1719.0,581.6 1720.0,575.2 1721.0,570.1 1722.0,564.9 1723.1,561.8 1724.1,553.9 1725.1,546.8 1726.1,542.3 1727.1,534.9 1728.2,527.0 1729.2,521.1 1730.2,511.7 1731.2,507.1 1732.2,499.5 1733.2,490.6 1734.3,481.8 1735.3,479.4 1736.3,469.5 1737.3,467.7 1738.3,453.9 1739.4,449.7 1740.4,440.6 1741.4,435.3 1742.4,430.2 1743.4,421.3 1744.5,417.1 1745.5,412.7 1746.5,408.3 1747.5,405.6 1748.5,403.9 1749.6,403.6 1750.6,405.8 1751.6,409.5 1752.6,413.9 1753.6,421.2 1754.6,428.8 1755.7,438.7 1756.7,444.9 1757.7,451.7 1758.7,463.6 1759.7,469.6 1760.8,478.3 1761.8,487.9 1762.8,497.7 1763.8,500.9 1764.8,511.5 1765.9,521.8 1766.9,528.6 1767.9,535.1 1768.9,542.8 1769.9,553.0 1770.9,555.9 1772.0,563.9 1773.0,569.4 1774.0,572.0 1775.0,577.9 1776.0,580.1 1777.1,583.0 1778.1,584.6 1779.1,590.1 1780.1,589.0 1781.1,589.3 1782.2,588.1 1783.2,592.6 1784.2,589.2 1785.2,585.6 1786.2,582.1 1787.3,577.4 1788.3,577.0 1789.3,572.9 1790.3,565.2 1791.3,564.8 1792.3,558.7 1793.4,549.7 1794.4,544.3 1795.4,538.1 1796.4,532.4 1797.4,524.9 1798.5,515.0 1799.5,513.3 1800.5,503.9 1801.5,498.1 1802.5,490.7 1803.6,480.8 1804.6,474.6 1805.6,468.3 1806.6,461.8 1807.6,453.9 1808.6,447.4 1809.7,443.8 1810.7,438.5 1811.7,436.7 1812.7,436.0 1813.7,443.9 1814.8,447.4 1815.8,454.6 1816.8,462.6 1817.8,471.0 1818.8,481.9 1819.9,487.3 1820.9,493.0 1821.9,504.6 1822.9,512.1 1823.9,522.7 1825.0,529.5 1826.0,538.0 1827.0,546.8 1828.0,554.9 1829.0,560.7 1830.0,570.4 1831.1,578.9 1832.1,588.0 1833.1,591.7 1834.1,597.6 1835.1,604.9 1836.2,609.8 1837.2,616.2 1838.2,618.2 1839.2,620.3 1840.2,625.4 1841.3,627.7 1842.3,625.3 1843.3,627.0 1844.3,623.5 1845.3,625.4 1846.3,623.6 1847.4,623.5 1848.4,621.4 1849.4,619.9 1850.4,617.7 1851.4,616.1 1852.5,612.6 1853.5,607.8 1854.5,602.9 1855.5,603.5 1856.5,599.6 1857.6,591.8 1858.6,588.9 1859.6,580.2 1860.6,574.9 1861.6,571.8 1862.7,569.3 1863.7,559.0 1864.7,553.4 1865.7,551.7 1866.7,539.1 1867.7,537.3 1868.8,530.5 1869.8,522.6 1870.8,516.7 1871.8,514.4 1872.8,500.9 1873.9,495.6 1874.9,489.1 1875.9,481.6 1876.9,473.9 1877.9,472.7 1879.0,463.9 1880.0,454.3 1881.0,450.3 1882.0,446.7 1883.0,441.4 1884.0,433.2 1885.1,431.3 1886.1,428.2 1887.1,425.4 1888.1,423.6 1889.1,420.6 1890.2,430.5 1891.2,432.1 1892.2,440.5 1893.2,448.6 1894.2,449.9 1895.3,455.2 1896.3,466.6 1897.3,472.7 1898.3,480.3 1899.3,487.6 1900.4,500.9 1901.4,505.5 1902.4,512.3 1903.4,522.5 1904.4,529.7 1905.4,540.4 1906.5,547.6 1907.5,554.5 1908.5,565.3 1909.5,570.8 1910.5,580.6 1911.6,588.8 1912.6,592.7 1913.6,598.7 1914.6,606.5 1915.6,613.6 1916.7,617.4 1917.7,622.7 1918.7,627.1 1919.7,631.9 1920.7,636.2 1921.7,637.0 1922.8,640.2 1923.8,643.4 1924.8,643.8 1925.8,646.5 1926.8,647.8 1927.9,644.5 1928.9,638.3 1929.9,632.9 1930.9,632.7 1931.9,626.5 1933.0,618.5 1934.0,614.7 1935.0,615.6 1936.0,611.2 1937.0,605.1 1938.1,603.7 1939.1,596.0 1940.1,595.9 1941.1,594.6 1942.1,587.3 1943.1,586.6 1944.2,586.6 1945.2,584.1 1946.2,577.5 1947.2,575.3 1948.2,573.7 1949.3,566.2 1950.3,560.7 1951.3,559.7 1952.3,556.3 1953.3,557.2 1954.4,553.1 1955.4,549.5 1956.4,553.5 1957.4,546.6 1958.4,546.9 1959.4,545.9 1960.5,544.8 1961.5,542.6 1962.5,542.3 1963.5,540.2 1964.5,536.9 1965.6,538.2 1966.6,537.5 1967.6,536.8 1968.6,536.7 1969.6,534.6 1970.7,537.5 1971.7,537.4 1972.7,530.0 1973.7,533.5 1974.7,531.7 1975.8,527.8 1976.8,532.7 1977.8,530.5 1978.8,530.5 1979.8,529.5 1980.8,532.3 1981.9,532.1 1982.9,530.0 1983.9,530.4 1984.9,528.5 1985.9,528.6 1987.0,526.7 1988.0,527.7 1989.0,526.0 1990.0,527.7 1991.0,528.2 1992.1,526.9 1993.1,528.2 1994.1,530.6 1995.1,521.7 1996.1,525.3 1997.1,524.0 1998.2,523.9 1999.2,522.1 2000.2,524.4 2001.2,523.7 2002.2,522.8 2003.3,523.3 2004.3,522.6 2005.3,519.2 2006.3,525.3 2007.3,522.6 2008.4,521.3 2009.4,523.4 2010.4,521.6 2011.4,518.7 2012.4,524.1 2013.5,519.4 2014.5,521.9 2015.5,522.4 2016.5,524.5 2017.5,524.1 2018.5,522.2 2019.6,520.4 2020.6,520.9 2021.6,523.5 2022.6,524.7 2023.6,522.4 2024.7,520.2 2025.7,523.1 2026.7,520.5 2027.7,520.4 2028.7,520.5 2029.8,522.0 2030.8,521.4 2031.8,522.6 2032.8,523.0 2033.8,521.6 2034.8,516.4 2035.9,517.4 2036.9,520.7 2037.9,520.2 2038.9,524.2 2039.9,520.2 2041.0,519.9 2042.0,521.8 2043.0,521.9 2044.0,519.5 2045.0,520.7 2046.1,517.8 2047.1,518.1 2048.1,521.9 2049.1,517.1 2050.1,521.2 2051.1,520.7 2052.2,520.8 2053.2,521.0 2054.2,520.4 2055.2,515.4 2056.2,517.4 2057.3,518.1 2058.3,520.8 2059.3,517.1 2060.3,517.8 2061.3,518.3 2062.4,521.3 2063.4,516.3 2064.4,516.4 2065.4,519.9 2066.4,514.9 2067.5,519.3 2068.5,517.9 2069.5,515.8 2070.5,517.9 2071.5,516.8 2072.5,518.9 2073.6,519.2 2074.6,521.2 2075.6,518.5 2076.6,518.6 2077.6,517.4 2078.7,518.4 2079.7,520.3 2080.7,514.9 2081.7,519.6 2082.7,517.4 2083.8,518.5 2084.8,518.9 2085.8,519.8 2086.8,518.7 2087.8,517.5 2088.8,518.8 2089.9,518.2 2090.9,517.8 2091.9,518.6 2092.9,519.7 2093.9,518.4 2095.0,518.4 2096.0,515.8 2097.0,517.9 2098.0,514.7 2099.0,519.4 2100.1,516.4 2101.1,520.4 2102.1,523.4 2103.1,517.3 2104.1,520.4 2105.2,518.7 2106.2,517.0 2107.2,516.4 2108.2,518.9 2109.2,520.4 2110.2,518.5 2111.3,515.2 2112.3,516.0 2113.3,517.4 2114.3,520.3 2115.3,518.3 2116.4,518.4 2117.4,520.0 2118.4,517.4 2119.4,517.6 2120.4,517.4 2121.5,514.5 2122.5,518.6 2123.5,518.5 2124.5,519.5 2125.5,515.6 2126.5,516.2 2127.6,519.4 2128.6,518.2 2129.6,520.1 2130.6,516.1 2131.6,518.0 2132.7,516.4 2133.7,518.2 2134.7,516.7 2135.7,518.6 2136.7,519.5 2137.8,518.8 2138.8,514.3 2139.8,519.2 2140.8,518.4 2141.8,515.7 2142.9,515.9 2143.9,517.5 2144.9,518.5 2145.9,516.7 2146.9,514.6 2147.9,518.0 2149.0,517.8 2150.0,521.9 2151.0,515.2 2152.0,522.0 2153.0,520.6 2154.1,518.0 2155.1,520.4 2156.1,517.6 2157.1,519.2 2158.1,516.1 2159.2,517.6 2160.2,515.6 2161.2,514.6 2162.2,516.9 2163.2,516.2 2164.2,518.4 2165.3,519.7 2166.3,517.1 2167.3,517.5 2168.3,517.7 2169.3,514.4 2170.4,517.9 2171.4,517.4 2172.4,517.3" fill="none" stroke="#C076E4" stroke-width="5.0" stroke-linejoin="round" clip-path="url(#cb)"/>
<polyline points="1256.4,276.2 1257.4,277.1 1258.4,276.2 1259.5,273.3 1260.5,277.3 1261.5,276.5 1262.5,274.7 1263.5,276.7 1264.6,276.3 1265.6,276.2 1266.6,275.7 1267.6,276.7 1268.6,274.4 1269.6,275.4 1270.7,274.9 1271.7,276.8 1272.7,275.8 1273.7,275.2 1274.7,274.3 1275.8,275.3 1276.8,275.8 1277.8,275.3 1278.8,278.1 1279.8,277.6 1280.9,270.9 1281.9,272.4 1282.9,275.5 1283.9,275.0 1284.9,276.2 1285.9,276.2 1287.0,279.6 1288.0,273.8 1289.0,275.1 1290.0,279.5 1291.0,277.0 1292.1,277.0 1293.1,274.9 1294.1,272.8 1295.1,276.1 1296.1,276.0 1297.2,273.6 1298.2,274.6 1299.2,275.7 1300.2,274.1 1301.2,275.6 1302.3,276.0 1303.3,275.9 1304.3,274.9 1305.3,276.9 1306.3,277.4 1307.3,276.4 1308.4,274.3 1309.4,277.1 1310.4,274.9 1311.4,277.3 1312.4,273.8 1313.5,277.4 1314.5,275.7 1315.5,273.5 1316.5,275.1 1317.5,275.8 1318.6,276.2 1319.6,273.9 1320.6,273.7 1321.6,276.0 1322.6,274.8 1323.6,276.0 1324.7,277.0 1325.7,272.6 1326.7,276.0 1327.7,277.7 1328.7,275.0 1329.8,274.0 1330.8,276.8 1331.8,275.9 1332.8,277.1 1333.8,274.8 1334.9,272.7 1335.9,275.2 1336.9,274.6 1337.9,276.7 1338.9,275.7 1340.0,272.4 1341.0,273.1 1342.0,276.8 1343.0,276.4 1344.0,274.0 1345.0,275.1 1346.1,275.9 1347.1,275.9 1348.1,276.6 1349.1,275.4 1350.1,274.7 1351.2,274.4 1352.2,276.7 1353.2,270.7 1354.2,274.4 1355.2,274.6 1356.3,271.9 1357.3,275.0 1358.3,273.2 1359.3,275.8 1360.3,274.0 1361.3,275.3 1362.4,276.2 1363.4,274.6 1364.4,272.3 1365.4,271.0 1366.4,276.8 1367.5,273.4 1368.5,272.3 1369.5,273.7 1370.5,273.0 1371.5,274.8 1372.6,273.2 1373.6,273.1 1374.6,271.7 1375.6,273.7 1376.6,270.9 1377.7,273.9 1378.7,275.4 1379.7,269.8 1380.7,268.0 1381.7,273.5 1382.7,276.8 1383.8,270.4 1384.8,269.8 1385.8,273.0 1386.8,270.3 1387.8,270.8 1388.9,271.0 1389.9,272.5 1390.9,270.7 1391.9,271.8 1392.9,270.9 1394.0,269.6 1395.0,270.4 1396.0,269.2 1397.0,270.8 1398.0,268.6 1399.0,268.6 1400.1,273.0 1401.1,270.2 1402.1,270.1 1403.1,271.0 1404.1,269.2 1405.2,269.5 1406.2,270.5 1407.2,270.2 1408.2,267.5 1409.2,271.0 1410.3,268.3 1411.3,267.3 1412.3,267.5 1413.3,268.3 1414.3,271.9 1415.3,266.7 1416.4,269.0 1417.4,264.8 1418.4,268.5 1419.4,270.0 1420.4,267.9 1421.5,267.0 1422.5,268.5 1423.5,269.2 1424.5,269.0 1425.5,271.2 1426.6,268.0 1427.6,266.4 1428.6,267.1 1429.6,267.1 1430.6,267.3 1431.7,266.9 1432.7,267.2 1433.7,263.7 1434.7,268.1 1435.7,265.5 1436.7,264.3 1437.8,267.4 1438.8,268.5 1439.8,266.9 1440.8,266.1 1441.8,264.0 1442.9,270.7 1443.9,267.0 1444.9,263.2 1445.9,263.7 1446.9,265.1 1448.0,262.0 1449.0,264.9 1450.0,263.5 1451.0,266.4 1452.0,265.7 1453.0,258.8 1454.1,263.5 1455.1,260.2 1456.1,264.8 1457.1,262.7 1458.1,262.9 1459.2,259.6 1460.2,264.3 1461.2,264.2 1462.2,258.1 1463.2,260.2 1464.3,257.7 1465.3,258.3 1466.3,255.5 1467.3,260.6 1468.3,254.9 1469.4,255.5 1470.4,256.4 1471.4,253.7 1472.4,253.9 1473.4,252.7 1474.4,252.9 1475.5,250.4 1476.5,251.1 1477.5,250.8 1478.5,249.9 1479.5,249.8 1480.6,248.4 1481.6,249.4 1482.6,246.5 1483.6,245.8 1484.6,243.7 1485.7,242.6 1486.7,239.8 1487.7,241.4 1488.7,236.8 1489.7,235.8 1490.7,236.2 1491.8,234.6 1492.8,231.5 1493.8,226.9 1494.8,229.5 1495.8,227.4 1496.9,222.4 1497.9,224.2 1498.9,219.3 1499.9,216.1 1500.9,215.7 1502.0,212.4 1503.0,210.1 1504.0,203.8 1505.0,206.7 1506.0,199.1 1507.1,193.9 1508.1,194.1 1509.1,188.4 1510.1,185.5 1511.1,179.8 1512.1,175.5 1513.2,170.8 1514.2,163.3 1515.2,159.6 1516.2,150.5 1517.2,142.9 1518.3,138.6 1519.3,134.1 1520.3,127.9 1521.3,121.7 1522.3,118.7 1523.4,108.1 1524.4,103.4 1525.4,100.5 1526.4,94.2 1527.4,93.2 1528.4,90.1 1529.5,89.3 1530.5,84.3 1531.5,87.2 1532.5,94.5 1533.5,97.0 1534.6,115.9 1535.6,119.0 1536.6,129.7 1537.6,144.1 1538.6,154.4 1539.7,163.7 1540.7,180.8 1541.7,194.2 1542.7,204.9 1543.7,218.4 1544.8,232.9 1545.8,243.4 1546.8,258.8 1547.8,271.1 1548.8,281.9 1549.8,292.8 1550.9,306.7 1551.9,316.9 1552.9,331.3 1553.9,340.2 1554.9,351.4 1556.0,359.6 1557.0,368.6 1558.0,374.9 1559.0,385.1 1560.0,393.9 1561.1,396.2 1562.1,401.0 1563.1,406.3 1564.1,409.4 1565.1,411.8 1566.1,415.3 1567.2,415.6 1568.2,418.8 1569.2,415.7 1570.2,415.2 1571.2,414.7 1572.3,410.2 1573.3,410.5 1574.3,403.5 1575.3,399.4 1576.3,395.8 1577.4,391.5 1578.4,384.0 1579.4,380.7 1580.4,371.7 1581.4,370.6 1582.5,361.1 1583.5,352.8 1584.5,344.6 1585.5,337.6 1586.5,329.6 1587.5,319.5 1588.6,310.9 1589.6,303.1 1590.6,293.2 1591.6,286.3 1592.6,277.0 1593.7,265.2 1594.7,256.1 1595.7,242.8 1596.7,236.3 1597.7,225.0 1598.8,215.8 1599.8,207.8 1600.8,191.0 1601.8,185.8 1602.8,173.8 1603.8,167.5 1604.9,155.1 1605.9,147.9 1606.9,141.0 1607.9,134.1 1608.9,126.2 1610.0,118.5 1611.0,113.9 1612.0,112.7 1613.0,110.0 1614.0,111.2 1615.1,122.7 1616.1,130.7 1617.1,141.5 1618.1,150.3 1619.1,164.1 1620.2,173.0 1621.2,188.6 1622.2,199.6 1623.2,214.7 1624.2,228.4 1625.2,238.2 1626.3,252.2 1627.3,264.9 1628.3,279.1 1629.3,290.1 1630.3,297.9 1631.4,311.7 1632.4,322.3 1633.4,334.3 1634.4,336.2 1635.4,346.3 1636.5,356.8 1637.5,358.3 1638.5,364.0 1639.5,371.5 1640.5,375.8 1641.5,375.1 1642.6,378.6 1643.6,377.9 1644.6,379.4 1645.6,374.5 1646.6,373.0 1647.7,365.3 1648.7,361.3 1649.7,355.2 1650.7,350.4 1651.7,341.4 1652.8,330.3 1653.8,323.6 1654.8,313.7 1655.8,301.6 1656.8,290.3 1657.9,279.0 1658.9,264.6 1659.9,256.1 1660.9,244.2 1661.9,230.2 1662.9,221.3 1664.0,205.9 1665.0,196.3 1666.0,186.0 1667.0,181.0 1668.0,166.3 1669.1,163.8 1670.1,161.1 1671.1,162.6 1672.1,169.2 1673.1,171.9 1674.2,177.5 1675.2,191.7 1676.2,197.6 1677.2,209.2 1678.2,218.2 1679.2,233.0 1680.3,243.6 1681.3,252.0 1682.3,266.1 1683.3,276.0 1684.3,286.7 1685.4,298.2 1686.4,308.6 1687.4,320.8 1688.4,330.7 1689.4,339.7 1690.5,351.9 1691.5,358.4 1692.5,369.0 1693.5,377.7 1694.5,387.6 1695.6,391.5 1696.6,402.4 1697.6,405.9 1698.6,410.8 1699.6,414.9 1700.6,421.5 1701.7,424.1 1702.7,424.8 1703.7,426.8 1704.7,429.0 1705.7,429.2 1706.8,432.0 1707.8,431.5 1708.8,428.8 1709.8,425.6 1710.8,421.2 1711.9,418.5 1712.9,415.9 1713.9,413.4 1714.9,405.9 1715.9,398.0 1716.9,392.2 1718.0,384.5 1719.0,376.7 1720.0,370.1 1721.0,362.7 1722.0,357.1 1723.1,345.0 1724.1,338.1 1725.1,329.3 1726.1,316.4 1727.1,309.0 1728.2,297.1 1729.2,284.5 1730.2,275.0 1731.2,263.7 1732.2,252.3 1733.2,241.3 1734.3,230.8 1735.3,220.3 1736.3,207.0 1737.3,197.7 1738.3,184.3 1739.4,177.0 1740.4,167.5 1741.4,156.8 1742.4,147.7 1743.4,139.4 1744.5,129.1 1745.5,122.5 1746.5,117.6 1747.5,113.5 1748.5,109.3 1749.6,114.7 1750.6,114.9 1751.6,123.6 1752.6,132.3 1753.6,138.9 1754.6,147.6 1755.7,157.5 1756.7,171.0 1757.7,184.1 1758.7,194.2 1759.7,205.9 1760.8,216.8 1761.8,230.4 1762.8,237.4 1763.8,253.4 1764.8,264.6 1765.9,273.4 1766.9,290.7 1767.9,295.0 1768.9,305.8 1769.9,315.4 1770.9,328.9 1772.0,334.1 1773.0,345.2 1774.0,352.7 1775.0,359.1 1776.0,362.6 1777.1,369.5 1778.1,378.5 1779.1,377.3 1780.1,381.5 1781.1,385.2 1782.2,388.6 1783.2,388.3 1784.2,389.0 1785.2,384.5 1786.2,385.9 1787.3,382.1 1788.3,374.1 1789.3,374.7 1790.3,370.3 1791.3,358.2 1792.3,352.4 1793.4,346.8 1794.4,333.0 1795.4,322.9 1796.4,314.4 1797.4,305.5 1798.5,294.9 1799.5,286.1 1800.5,274.3 1801.5,260.2 1802.5,252.1 1803.6,243.0 1804.6,230.4 1805.6,218.9 1806.6,206.5 1807.6,197.9 1808.6,184.9 1809.7,179.4 1810.7,170.6 1811.7,167.2 1812.7,163.7 1813.7,164.7 1814.8,173.7 1815.8,184.2 1816.8,189.8 1817.8,201.8 1818.8,213.1 1819.9,224.1 1820.9,241.2 1821.9,254.8 1822.9,267.0 1823.9,279.2 1825.0,291.9 1826.0,305.4 1827.0,316.5 1828.0,331.9 1829.0,344.3 1830.0,355.8 1831.1,364.4 1832.1,376.2 1833.1,385.8 1834.1,398.7 1835.1,404.4 1836.2,408.6 1837.2,419.8 1838.2,428.6 1839.2,431.7 1840.2,436.4 1841.3,438.2 1842.3,436.9 1843.3,438.4 1844.3,439.6 1845.3,441.1 1846.3,440.7 1847.4,439.6 1848.4,435.4 1849.4,434.9 1850.4,429.3 1851.4,424.5 1852.5,422.9 1853.5,414.8 1854.5,406.1 1855.5,403.2 1856.5,399.0 1857.6,386.5 1858.6,384.3 1859.6,376.8 1860.6,367.0 1861.6,358.7 1862.7,352.0 1863.7,343.0 1864.7,337.2 1865.7,326.3 1866.7,313.2 1867.7,304.8 1868.8,297.7 1869.8,289.8 1870.8,277.0 1871.8,266.7 1872.8,259.3 1873.9,245.7 1874.9,235.0 1875.9,222.9 1876.9,214.6 1877.9,209.7 1879.0,193.7 1880.0,187.0 1881.0,175.6 1882.0,170.0 1883.0,163.6 1884.0,154.3 1885.1,149.7 1886.1,144.4 1887.1,139.9 1888.1,140.6 1889.1,142.4 1890.2,146.5 1891.2,153.5 1892.2,162.3 1893.2,174.7 1894.2,184.1 1895.3,201.1 1896.3,211.5 1897.3,220.2 1898.3,232.6 1899.3,249.1 1900.4,255.7 1901.4,271.3 1902.4,286.8 1903.4,296.3 1904.4,309.8 1905.4,322.6 1906.5,336.7 1907.5,347.7 1908.5,359.8 1909.5,371.4 1910.5,381.1 1911.6,393.4 1912.6,399.9 1913.6,407.8 1914.6,415.8 1915.6,424.1 1916.7,433.3 1917.7,442.8 1918.7,447.2 1919.7,450.9 1920.7,454.4 1921.7,458.9 1922.8,461.8 1923.8,463.4 1924.8,462.7 1925.8,462.0 1926.8,459.7 1927.9,448.9 1928.9,447.3 1929.9,438.9 1930.9,437.9 1931.9,431.2 1933.0,423.6 1934.0,422.4 1935.0,420.3 1936.0,412.0 1937.0,408.6 1938.1,401.0 1939.1,391.9 1940.1,391.2 1941.1,384.2 1942.1,377.0 1943.1,375.8 1944.2,369.7 1945.2,363.1 1946.2,360.4 1947.2,351.9 1948.2,349.2 1949.3,341.1 1950.3,338.9 1951.3,331.5 1952.3,332.6 1953.3,327.3 1954.4,326.7 1955.4,320.0 1956.4,318.2 1957.4,318.4 1958.4,309.9 1959.4,311.0 1960.5,313.0 1961.5,310.5 1962.5,310.0 1963.5,306.4 1964.5,306.8 1965.6,303.4 1966.6,301.1 1967.6,299.6 1968.6,300.7 1969.6,299.8 1970.7,298.8 1971.7,292.7 1972.7,294.7 1973.7,296.6 1974.7,297.4 1975.8,295.2 1976.8,294.0 1977.8,290.9 1978.8,298.1 1979.8,291.9 1980.8,296.3 1981.9,295.5 1982.9,292.7 1983.9,290.6 1984.9,291.4 1985.9,288.5 1987.0,290.6 1988.0,289.7 1989.0,290.1 1990.0,290.4 1991.0,291.4 1992.1,287.2 1993.1,289.3 1994.1,285.7 1995.1,285.1 1996.1,285.2 1997.1,284.2 1998.2,287.4 1999.2,287.0 2000.2,287.4 2001.2,284.8 2002.2,285.1 2003.3,283.3 2004.3,282.1 2005.3,284.7 2006.3,284.2 2007.3,281.5 2008.4,284.4 2009.4,280.0 2010.4,282.6 2011.4,281.6 2012.4,281.7 2013.5,280.5 2014.5,284.0 2015.5,283.2 2016.5,284.1 2017.5,282.1 2018.5,279.4 2019.6,280.9 2020.6,279.3 2021.6,282.1 2022.6,283.4 2023.6,281.7 2024.7,279.9 2025.7,280.2 2026.7,281.1 2027.7,278.0 2028.7,280.8 2029.8,280.8 2030.8,279.3 2031.8,279.5 2032.8,280.4 2033.8,278.5 2034.8,278.4 2035.9,281.2 2036.9,280.1 2037.9,282.6 2038.9,277.7 2039.9,276.2 2041.0,281.0 2042.0,281.0 2043.0,277.8 2044.0,276.4 2045.0,278.9 2046.1,275.7 2047.1,278.2 2048.1,274.8 2049.1,278.2 2050.1,274.7 2051.1,278.0 2052.2,281.1 2053.2,277.8 2054.2,279.6 2055.2,277.0 2056.2,276.4 2057.3,275.3 2058.3,279.8 2059.3,277.7 2060.3,280.7 2061.3,275.6 2062.4,277.2 2063.4,277.7 2064.4,280.1 2065.4,280.7 2066.4,276.2 2067.5,275.3 2068.5,274.2 2069.5,279.7 2070.5,277.0 2071.5,276.0 2072.5,277.0 2073.6,272.5 2074.6,273.9 2075.6,278.7 2076.6,277.7 2077.6,277.2 2078.7,275.1 2079.7,277.9 2080.7,280.1 2081.7,274.6 2082.7,276.8 2083.8,276.0 2084.8,277.4 2085.8,276.7 2086.8,276.4 2087.8,275.1 2088.8,276.6 2089.9,275.5 2090.9,276.3 2091.9,276.5 2092.9,277.7 2093.9,275.5 2095.0,275.9 2096.0,278.4 2097.0,276.1 2098.0,276.0 2099.0,278.0 2100.1,276.9 2101.1,276.5 2102.1,276.7 2103.1,274.1 2104.1,277.1 2105.2,278.7 2106.2,277.3 2107.2,273.4 2108.2,276.7 2109.2,274.6 2110.2,275.8 2111.3,276.4 2112.3,274.0 2113.3,278.5 2114.3,276.0 2115.3,277.5 2116.4,277.2 2117.4,278.5 2118.4,278.2 2119.4,273.4 2120.4,276.1 2121.5,272.2 2122.5,275.2 2123.5,277.3 2124.5,277.6 2125.5,278.3 2126.5,275.3 2127.6,276.5 2128.6,276.1 2129.6,278.2 2130.6,278.7 2131.6,275.2 2132.7,282.7 2133.7,275.8 2134.7,275.2 2135.7,276.9 2136.7,277.2 2137.8,276.8 2138.8,274.6 2139.8,278.4 2140.8,275.8 2141.8,278.5 2142.9,278.2 2143.9,273.4 2144.9,273.9 2145.9,273.9 2146.9,276.1 2147.9,275.8 2149.0,276.2 2150.0,274.2 2151.0,276.4 2152.0,278.2 2153.0,273.2 2154.1,275.3 2155.1,276.1 2156.1,275.4 2157.1,275.3 2158.1,278.8 2159.2,277.9 2160.2,277.1 2161.2,274.2 2162.2,279.6 2163.2,276.2 2164.2,274.6 2165.3,275.0 2166.3,274.7 2167.3,279.4 2168.3,276.0 2169.3,275.7 2170.4,271.7 2171.4,276.9 2172.4,273.7" fill="none" stroke="#FF3D3F" stroke-width="5.0" stroke-linejoin="round" clip-path="url(#cb)"/>
<rect x="1255.9" y="43.75" width="914.50" height="737.10" fill="none" stroke="#000" stroke-width="4.5"/>
<line x1="1255.90" y1="780.85" x2="1255.90" y2="794.20" stroke="#000" stroke-width="4.5" stroke-linecap="butt"/>
<text x="1254.60" y="843.60" font-family='"Liberation Sans", Arial, sans-serif' font-size="50.0" text-anchor="middle" fill="#000" font-weight="normal" stroke="#000" stroke-width="0.55" >3460</text>
<line x1="1459.12" y1="780.85" x2="1459.12" y2="794.20" stroke="#000" stroke-width="4.5" stroke-linecap="butt"/>
<text x="1457.82" y="843.60" font-family='"Liberation Sans", Arial, sans-serif' font-size="50.0" text-anchor="middle" fill="#000" font-weight="normal" stroke="#000" stroke-width="0.55" >3480</text>
<line x1="1662.34" y1="780.85" x2="1662.34" y2="794.20" stroke="#000" stroke-width="4.5" stroke-linecap="butt"/>
<text x="1661.04" y="843.60" font-family='"Liberation Sans", Arial, sans-serif' font-size="50.0" text-anchor="middle" fill="#000" font-weight="normal" stroke="#000" stroke-width="0.55" >3500</text>
<line x1="1865.57" y1="780.85" x2="1865.57" y2="794.20" stroke="#000" stroke-width="4.5" stroke-linecap="butt"/>
<text x="1864.27" y="843.60" font-family='"Liberation Sans", Arial, sans-serif' font-size="50.0" text-anchor="middle" fill="#000" font-weight="normal" stroke="#000" stroke-width="0.55" >3520</text>
<line x1="2068.79" y1="780.85" x2="2068.79" y2="794.20" stroke="#000" stroke-width="4.5" stroke-linecap="butt"/>
<text x="2067.49" y="843.60" font-family='"Liberation Sans", Arial, sans-serif' font-size="50.0" text-anchor="middle" fill="#000" font-weight="normal" stroke="#000" stroke-width="0.55" >3540</text>
<line x1="1357.51" y1="780.85" x2="1357.51" y2="786.30" stroke="#000" stroke-width="4.5" stroke-linecap="butt"/>
<line x1="1560.73" y1="780.85" x2="1560.73" y2="786.30" stroke="#000" stroke-width="4.5" stroke-linecap="butt"/>
<line x1="1763.96" y1="780.85" x2="1763.96" y2="786.30" stroke="#000" stroke-width="4.5" stroke-linecap="butt"/>
<line x1="1967.18" y1="780.85" x2="1967.18" y2="786.30" stroke="#000" stroke-width="4.5" stroke-linecap="butt"/>
<line x1="2170.40" y1="780.85" x2="2170.40" y2="786.30" stroke="#000" stroke-width="4.5" stroke-linecap="butt"/>
<polyline points="808.4,1584.9 809.4,1586.5 810.4,1586.3 811.4,1590.5 812.5,1581.9 813.5,1591.0 814.5,1587.5 815.5,1595.4 816.5,1595.6 817.5,1597.3 818.5,1594.5 819.5,1590.9 820.6,1594.8 821.6,1597.5 822.6,1588.1 823.6,1593.5 824.6,1590.6 825.6,1596.9 826.6,1587.0 827.6,1589.3 828.7,1592.1 829.7,1591.6 830.7,1583.4 831.7,1591.9 832.7,1589.8 833.7,1589.3 834.7,1589.6 835.7,1591.2 836.8,1582.4 837.8,1596.9 838.8,1586.5 839.8,1580.5 840.8,1589.8 841.8,1596.4 842.8,1587.9 843.8,1596.7 844.9,1596.8 845.9,1586.3 846.9,1579.4 847.9,1584.7 848.9,1595.1 849.9,1586.5 850.9,1583.5 851.9,1584.3 853.0,1590.0 854.0,1589.9 855.0,1593.8 856.0,1594.3 857.0,1586.0 858.0,1589.3 859.0,1585.1 860.0,1590.3 861.1,1585.3 862.1,1585.6 863.1,1600.6 864.1,1592.5 865.1,1596.0 866.1,1605.0 867.1,1598.3 868.1,1595.2 869.2,1596.4 870.2,1593.3 871.2,1601.2 872.2,1595.1 873.2,1604.1 874.2,1595.0 875.2,1594.9 876.2,1594.6 877.3,1599.0 878.3,1597.1 879.3,1602.2 880.3,1593.8 881.3,1597.4 882.3,1604.4 883.3,1595.0 884.4,1598.2 885.4,1602.6 886.4,1598.2 887.4,1593.0 888.4,1586.8 889.4,1605.9 890.4,1597.3 891.4,1600.8 892.5,1593.3 893.5,1603.0 894.5,1597.4 895.5,1595.3 896.5,1591.1 897.5,1596.5 898.5,1592.7 899.5,1593.7 900.6,1587.6 901.6,1592.4 902.6,1595.1 903.6,1589.0 904.6,1594.6 905.6,1597.1 906.6,1592.8 907.6,1591.4 908.7,1591.4 909.7,1598.0 910.7,1587.3 911.7,1592.6 912.7,1592.1 913.7,1594.4 914.7,1593.5 915.7,1589.0 916.8,1602.5 917.8,1594.5 918.8,1587.9 919.8,1589.8 920.8,1594.1 921.8,1596.3 922.8,1587.8 923.8,1596.6 924.9,1587.7 925.9,1590.1 926.9,1597.2 927.9,1600.8 928.9,1593.1 929.9,1592.1 930.9,1598.9 931.9,1588.8 933.0,1594.6 934.0,1594.4 935.0,1597.7 936.0,1594.7 937.0,1592.2 938.0,1596.0 939.0,1588.5 940.0,1596.8 941.1,1590.4 942.1,1589.4 943.1,1591.7 944.1,1593.5 945.1,1596.3 946.1,1592.3 947.1,1596.4 948.1,1597.4 949.2,1592.8 950.2,1589.0 951.2,1597.1 952.2,1594.4 953.2,1584.1 954.2,1588.9 955.2,1593.8 956.3,1587.2 957.3,1590.2 958.3,1585.7 959.3,1594.8 960.3,1594.1 961.3,1593.8 962.3,1599.3 963.3,1591.5 964.4,1591.8 965.4,1601.7 966.4,1587.4 967.4,1596.1 968.4,1587.3 969.4,1593.9 970.4,1602.0 971.4,1594.1 972.5,1589.6 973.5,1603.1 974.5,1590.5 975.5,1591.9 976.5,1594.1 977.5,1587.0 978.5,1597.5 979.5,1599.7 980.6,1595.9 981.6,1594.1 982.6,1592.0 983.6,1596.4 984.6,1579.0 985.6,1592.0 986.6,1593.6 987.6,1583.9 988.7,1594.2 989.7,1591.8 990.7,1592.1 991.7,1592.6 992.7,1594.6 993.7,1594.1 994.7,1587.6 995.7,1591.5 996.8,1591.1 997.8,1592.0 998.8,1589.2 999.8,1595.9 1000.8,1597.2 1001.8,1598.1 1002.8,1599.7 1003.8,1597.8 1004.9,1589.4 1005.9,1588.6 1006.9,1589.5 1007.9,1593.5 1008.9,1590.5 1009.9,1595.3 1010.9,1598.0 1011.9,1589.0 1013.0,1595.0 1014.0,1589.1 1015.0,1585.2 1016.0,1585.2 1017.0,1589.2 1018.0,1582.3 1019.0,1592.6 1020.1,1596.9 1021.1,1585.3 1022.1,1588.9 1023.1,1596.9 1024.1,1591.7 1025.1,1591.0 1026.1,1589.0 1027.1,1594.5 1028.2,1591.5 1029.2,1585.4 1030.2,1579.6 1031.2,1578.5 1032.2,1592.8 1033.2,1588.9 1034.2,1596.2 1035.2,1592.2 1036.3,1584.6 1037.3,1591.4 1038.3,1595.4 1039.3,1586.6 1040.3,1588.5 1041.3,1598.4 1042.3,1583.7 1043.3,1586.8 1044.4,1596.4 1045.4,1593.0 1046.4,1587.6 1047.4,1586.7 1048.4,1595.3 1049.4,1598.9 1050.4,1597.6 1051.4,1596.2 1052.5,1601.2 1053.5,1596.4 1054.5,1591.8 1055.5,1604.5 1056.5,1590.7 1057.5,1595.7 1058.5,1596.2 1059.5,1602.8 1060.6,1593.5 1061.6,1595.7 1062.6,1589.3 1063.6,1598.4 1064.6,1598.9 1065.6,1599.7 1066.6,1592.8 1067.6,1597.7 1068.7,1592.7 1069.7,1594.2 1070.7,1595.7 1071.7,1601.4 1072.7,1593.6 1073.7,1596.0 1074.7,1591.3 1075.7,1592.2 1076.8,1591.3 1077.8,1593.2 1078.8,1596.9 1079.8,1588.4 1080.8,1595.9 1081.8,1588.4 1082.8,1593.5 1083.8,1589.3 1084.9,1590.1 1085.9,1589.3 1086.9,1595.4 1087.9,1591.4 1088.9,1594.6 1089.9,1588.1 1090.9,1588.3 1092.0,1596.0 1093.0,1581.8 1094.0,1584.8 1095.0,1587.6 1096.0,1596.1 1097.0,1585.5 1098.0,1591.4 1099.0,1594.7 1100.1,1586.9 1101.1,1587.1 1102.1,1595.1 1103.1,1585.5 1104.1,1583.4 1105.1,1591.5 1106.1,1585.7 1107.1,1593.5 1108.2,1590.2 1109.2,1580.3 1110.2,1589.1 1111.2,1587.9 1112.2,1585.0 1113.2,1592.6 1114.2,1580.3 1115.2,1582.5 1116.3,1585.7 1117.3,1591.3 1118.3,1581.3 1119.3,1585.1 1120.3,1584.8 1121.3,1581.4 1122.3,1586.2 1123.3,1582.9 1124.4,1585.9 1125.4,1589.1 1126.4,1583.9 1127.4,1584.1 1128.4,1583.6 1129.4,1584.2 1130.4,1581.1 1131.4,1582.7 1132.5,1588.3 1133.5,1584.0 1134.5,1601.9 1135.5,1584.3 1136.5,1589.8 1137.5,1581.3 1138.5,1586.7 1139.5,1585.5 1140.6,1587.5 1141.6,1593.6 1142.6,1587.1 1143.6,1582.6 1144.6,1588.4 1145.6,1583.7 1146.6,1587.3 1147.6,1594.7 1148.7,1592.0 1149.7,1592.5 1150.7,1590.2 1151.7,1587.8 1152.7,1581.2 1153.7,1585.7 1154.7,1585.5 1155.7,1590.7 1156.8,1592.0 1157.8,1589.7 1158.8,1584.2 1159.8,1595.5 1160.8,1593.6 1161.8,1586.5 1162.8,1588.3 1163.9,1590.1 1164.9,1587.8 1165.9,1586.8 1166.9,1589.3 1167.9,1587.2 1168.9,1588.0 1169.9,1580.1 1170.9,1580.1 1172.0,1594.4 1173.0,1580.3 1174.0,1588.9 1175.0,1588.1 1176.0,1587.6 1177.0,1583.7 1178.0,1590.9 1179.0,1588.0 1180.1,1585.0 1181.1,1580.4 1182.1,1585.4 1183.1,1583.8 1184.1,1580.9 1185.1,1587.9 1186.1,1588.7 1187.1,1589.8 1188.2,1586.7 1189.2,1585.1 1190.2,1591.0 1191.2,1589.4 1192.2,1596.0 1193.2,1588.5 1194.2,1582.1 1195.2,1590.3 1196.3,1596.1 1197.3,1587.4 1198.3,1586.0 1199.3,1585.1 1200.3,1597.2 1201.3,1589.6 1202.3,1590.9 1203.3,1594.8 1204.4,1588.7 1205.4,1594.8 1206.4,1591.3 1207.4,1596.6 1208.4,1599.3 1209.4,1601.1 1210.4,1595.1 1211.4,1600.3 1212.5,1594.8 1213.5,1589.0 1214.5,1598.3 1215.5,1594.6 1216.5,1595.5 1217.5,1583.4 1218.5,1595.2 1219.5,1594.9 1220.6,1594.4 1221.6,1597.4 1222.6,1591.0 1223.6,1601.4 1224.6,1594.9 1225.6,1593.8 1226.6,1580.4 1227.6,1582.4 1228.7,1597.1 1229.7,1592.2 1230.7,1594.4 1231.7,1588.7 1232.7,1589.9 1233.7,1592.9 1234.7,1587.0 1235.8,1596.1 1236.8,1585.7 1237.8,1591.4 1238.8,1589.3 1239.8,1592.0 1240.8,1595.9 1241.8,1585.7 1242.8,1592.5 1243.9,1591.1 1244.9,1594.2 1245.9,1590.5 1246.9,1588.5 1247.9,1592.8 1248.9,1596.4 1249.9,1594.1 1250.9,1591.3 1252.0,1592.5 1253.0,1584.0 1254.0,1588.3 1255.0,1589.6 1256.0,1588.3 1257.0,1587.6 1258.0,1590.4 1259.0,1592.4 1260.1,1599.0 1261.1,1587.6 1262.1,1586.7 1263.1,1594.9 1264.1,1591.3 1265.1,1586.8 1266.1,1597.2 1267.1,1589.7 1268.2,1589.2 1269.2,1588.0 1270.2,1586.7 1271.2,1591.1 1272.2,1586.5 1273.2,1601.2 1274.2,1592.0 1275.2,1589.5 1276.3,1587.2 1277.3,1591.7 1278.3,1594.8 1279.3,1591.6 1280.3,1585.6 1281.3,1589.5 1282.3,1583.2 1283.3,1596.7 1284.4,1593.5 1285.4,1591.5 1286.4,1591.9 1287.4,1588.3 1288.4,1590.2 1289.4,1595.0 1290.4,1590.8 1291.4,1593.7 1292.5,1592.2 1293.5,1592.4 1294.5,1592.9 1295.5,1596.2 1296.5,1590.7 1297.5,1595.0 1298.5,1588.9 1299.6,1590.0 1300.6,1589.6 1301.6,1596.5 1302.6,1591.7 1303.6,1598.5 1304.6,1589.0 1305.6,1595.3 1306.6,1588.8 1307.7,1598.8 1308.7,1591.2 1309.7,1596.3 1310.7,1591.6 1311.7,1591.4 1312.7,1595.9 1313.7,1587.7 1314.7,1590.1 1315.8,1601.8 1316.8,1591.9 1317.8,1599.1 1318.8,1592.0 1319.8,1588.7 1320.8,1594.1 1321.8,1599.6 1322.8,1595.8 1323.9,1594.7 1324.9,1599.7 1325.9,1592.7 1326.9,1599.1 1327.9,1597.3 1328.9,1591.6 1329.9,1599.9 1330.9,1600.7 1332.0,1594.8 1333.0,1596.4 1334.0,1594.6 1335.0,1590.9 1336.0,1599.1 1337.0,1591.3 1338.0,1597.8 1339.0,1593.2 1340.1,1591.0 1341.1,1598.0 1342.1,1596.3 1343.1,1603.2 1344.1,1594.9 1345.1,1595.7 1346.1,1595.5 1347.1,1593.9 1348.2,1600.5 1349.2,1601.2 1350.2,1597.6 1351.2,1590.3 1352.2,1596.5 1353.2,1594.7 1354.2,1592.4 1355.2,1587.6 1356.3,1598.0 1357.3,1599.3 1358.3,1595.4 1359.3,1595.9 1360.3,1601.4 1361.3,1602.1 1362.3,1594.6 1363.3,1581.3 1364.4,1596.5 1365.4,1594.0 1366.4,1596.3 1367.4,1591.0 1368.4,1588.8 1369.4,1595.2 1370.4,1591.7 1371.5,1593.3 1372.5,1594.6 1373.5,1593.2 1374.5,1586.5 1375.5,1595.0 1376.5,1590.4 1377.5,1591.5 1378.5,1594.2 1379.6,1586.1 1380.6,1591.1 1381.6,1584.3 1382.6,1589.7 1383.6,1593.5 1384.6,1591.4 1385.6,1590.7 1386.6,1594.4 1387.7,1590.1 1388.7,1584.9 1389.7,1596.3 1390.7,1592.6 1391.7,1595.1 1392.7,1589.9 1393.7,1589.8 1394.7,1588.5 1395.8,1583.5 1396.8,1589.8 1397.8,1589.3 1398.8,1598.8 1399.8,1583.9 1400.8,1592.3 1401.8,1591.5 1402.8,1592.1 1403.9,1591.9 1404.9,1593.7 1405.9,1596.6 1406.9,1586.0 1407.9,1596.8 1408.9,1592.2 1409.9,1589.4 1410.9,1585.8 1412.0,1586.1 1413.0,1593.8 1414.0,1589.5 1415.0,1589.7 1416.0,1592.6 1417.0,1595.0 1418.0,1593.1 1419.0,1590.4 1420.1,1592.8 1421.1,1594.9 1422.1,1591.4 1423.1,1599.9 1424.1,1601.7 1425.1,1601.9 1426.1,1595.1 1427.1,1595.2 1428.2,1592.9 1429.2,1602.8 1430.2,1595.0 1431.2,1606.4 1432.2,1588.4 1433.2,1598.2 1434.2,1599.4 1435.2,1597.3 1436.3,1599.8 1437.3,1605.8 1438.3,1597.1 1439.3,1600.8 1440.3,1595.3 1441.3,1591.8 1442.3,1592.6 1443.4,1600.7 1444.4,1598.5 1445.4,1590.9 1446.4,1598.4 1447.4,1599.6 1448.4,1599.0 1449.4,1601.7 1450.4,1590.6 1451.5,1592.7 1452.5,1592.1 1453.5,1597.2 1454.5,1602.1 1455.5,1594.6 1456.5,1597.9 1457.5,1600.0 1458.5,1594.2 1459.6,1599.6 1460.6,1595.5 1461.6,1603.5 1462.6,1601.8 1463.6,1593.8 1464.6,1593.3 1465.6,1603.4 1466.6,1591.7 1467.7,1600.3 1468.7,1593.4 1469.7,1590.1 1470.7,1602.4 1471.7,1596.7 1472.7,1590.3 1473.7,1593.6 1474.7,1591.3 1475.8,1590.2 1476.8,1593.7 1477.8,1598.7 1478.8,1587.9 1479.8,1595.9 1480.8,1587.3 1481.8,1593.0 1482.8,1586.8 1483.9,1587.0 1484.9,1589.4 1485.9,1596.2 1486.9,1595.2 1487.9,1590.6 1488.9,1589.4 1489.9,1590.9 1490.9,1602.2 1492.0,1591.2 1493.0,1588.8 1494.0,1587.0 1495.0,1587.5 1496.0,1591.2 1497.0,1590.8 1498.0,1577.9 1499.0,1597.1 1500.1,1589.9 1501.1,1587.6 1502.1,1599.6 1503.1,1581.6 1504.1,1583.1 1505.1,1593.6 1506.1,1589.1 1507.1,1593.3 1508.2,1595.3 1509.2,1598.3 1510.2,1593.8 1511.2,1588.8 1512.2,1584.8 1513.2,1593.1 1514.2,1585.5 1515.3,1593.8 1516.3,1590.5 1517.3,1596.0 1518.3,1597.7 1519.3,1594.8 1520.3,1589.3 1521.3,1596.0 1522.3,1592.3 1523.4,1596.8 1524.4,1593.5 1525.4,1605.5 1526.4,1593.1 1527.4,1587.1 1528.4,1591.5 1529.4,1595.8 1530.4,1607.4 1531.5,1601.4 1532.5,1592.8 1533.5,1595.4 1534.5,1590.2 1535.5,1589.0 1536.5,1599.4 1537.5,1597.1 1538.5,1592.0 1539.6,1592.1 1540.6,1597.1 1541.6,1598.1 1542.6,1591.7 1543.6,1587.7 1544.6,1599.0 1545.6,1591.9 1546.6,1587.1 1547.7,1594.2 1548.7,1595.9 1549.7,1599.1 1550.7,1593.0 1551.7,1596.1 1552.7,1589.4 1553.7,1596.8 1554.7,1588.1 1555.8,1597.4 1556.8,1595.4 1557.8,1588.1 1558.8,1591.9 1559.8,1601.8 1560.8,1590.0 1561.8,1587.4 1562.8,1593.3 1563.9,1595.2 1564.9,1598.0 1565.9,1593.8 1566.9,1592.4 1567.9,1593.3 1568.9,1597.6 1569.9,1593.5 1570.9,1596.6 1572.0,1586.5 1573.0,1592.6 1574.0,1593.8 1575.0,1598.6 1576.0,1596.1 1577.0,1595.0 1578.0,1598.7 1579.1,1594.7 1580.1,1607.6 1581.1,1590.0 1582.1,1594.5 1583.1,1601.9 1584.1,1597.3 1585.1,1595.2 1586.1,1598.2 1587.2,1591.8 1588.2,1594.3 1589.2,1594.6 1590.2,1602.2 1591.2,1595.2 1592.2,1602.7 1593.2,1593.6 1594.2,1594.9 1595.3,1586.3 1596.3,1596.4 1597.3,1585.1 1598.3,1596.6 1599.3,1597.9 1600.3,1595.4 1601.3,1589.0 1602.3,1592.3 1603.4,1582.0 1604.4,1590.4 1605.4,1594.5 1606.4,1593.5 1607.4,1591.8 1608.4,1599.1 1609.4,1594.9 1610.4,1593.4 1611.5,1594.2 1612.5,1588.7 1613.5,1592.5 1614.5,1584.8 1615.5,1581.3 1616.5,1591.7 1617.5,1597.2 1618.5,1588.4 1619.6,1594.8 1620.6,1585.5 1621.6,1593.0 1622.6,1593.1 1623.6,1593.0 1624.6,1586.8 1625.6,1595.4 1626.6,1596.0 1627.7,1595.3 1628.7,1602.8 1629.7,1591.5 1630.7,1593.8 1631.7,1598.2 1632.7,1587.2 1633.7,1589.0 1634.7,1597.7 1635.8,1591.4 1636.8,1589.5 1637.8,1595.0 1638.8,1587.0 1639.8,1593.5 1640.8,1588.4 1641.8,1590.0 1642.8,1581.4 1643.9,1593.8 1644.9,1593.9 1645.9,1592.0 1646.9,1589.9 1647.9,1593.8 1648.9,1599.1 1649.9,1596.5 1651.0,1589.7 1652.0,1593.8 1653.0,1591.6 1654.0,1595.0 1655.0,1589.2 1656.0,1599.1 1657.0,1589.3 1658.0,1588.3 1659.1,1594.2 1660.1,1599.7 1661.1,1585.4 1662.1,1592.9 1663.1,1595.3 1664.1,1604.3 1665.1,1586.1 1666.1,1597.4 1667.2,1589.4 1668.2,1591.1 1669.2,1596.7 1670.2,1592.7 1671.2,1586.6 1672.2,1591.5 1673.2,1590.8 1674.2,1593.2 1675.3,1588.3 1676.3,1589.4 1677.3,1590.9 1678.3,1592.4 1679.3,1591.6 1680.3,1594.1 1681.3,1595.0 1682.3,1593.6 1683.4,1589.3 1684.4,1585.5 1685.4,1588.3 1686.4,1589.2 1687.4,1590.9 1688.4,1596.0 1689.4,1591.6 1690.4,1587.8 1691.5,1586.2 1692.5,1591.3 1693.5,1590.7 1694.5,1587.2 1695.5,1584.6 1696.5,1590.2 1697.5,1593.4 1698.5,1592.6 1699.6,1585.4 1700.6,1589.7 1701.6,1590.7 1702.6,1587.4 1703.6,1591.2 1704.6,1588.8 1705.6,1595.5 1706.6,1588.7 1707.7,1598.5 1708.7,1595.9 1709.7,1593.2 1710.7,1592.7 1711.7,1597.6 1712.7,1590.0 1713.7,1593.4 1714.7,1590.5 1715.8,1598.2 1716.8,1590.3 1717.8,1590.5 1718.8,1580.2" fill="none" stroke="#4F4F4F" stroke-width="5.0" stroke-linejoin="round" clip-path="url(#cc)"/>
<polyline points="808.4,1504.7 809.4,1505.9 810.4,1503.4 811.4,1500.7 812.5,1502.5 813.5,1500.2 814.5,1504.7 815.5,1510.1 816.5,1502.2 817.5,1501.6 818.5,1506.4 819.5,1505.8 820.6,1504.7 821.6,1500.2 822.6,1504.1 823.6,1507.2 824.6,1498.4 825.6,1502.2 826.6,1495.9 827.6,1498.6 828.7,1496.2 829.7,1503.1 830.7,1498.6 831.7,1505.2 832.7,1504.7 833.7,1503.2 834.7,1493.2 835.7,1501.7 836.8,1503.8 837.8,1504.5 838.8,1497.4 839.8,1502.0 840.8,1499.8 841.8,1500.5 842.8,1508.6 843.8,1500.5 844.9,1503.9 845.9,1507.8 846.9,1501.5 847.9,1503.5 848.9,1504.5 849.9,1504.3 850.9,1498.8 851.9,1504.4 853.0,1509.9 854.0,1497.5 855.0,1507.9 856.0,1504.8 857.0,1501.6 858.0,1513.0 859.0,1507.7 860.0,1499.4 861.1,1505.0 862.1,1507.2 863.1,1504.0 864.1,1507.9 865.1,1504.8 866.1,1508.0 867.1,1511.5 868.1,1502.5 869.2,1506.4 870.2,1503.7 871.2,1506.3 872.2,1500.8 873.2,1503.5 874.2,1505.3 875.2,1510.1 876.2,1511.3 877.3,1500.8 878.3,1503.1 879.3,1509.4 880.3,1498.2 881.3,1504.9 882.3,1506.5 883.3,1512.4 884.4,1510.1 885.4,1505.8 886.4,1505.6 887.4,1506.2 888.4,1513.9 889.4,1505.5 890.4,1506.1 891.4,1508.9 892.5,1506.9 893.5,1506.5 894.5,1502.6 895.5,1507.3 896.5,1505.4 897.5,1512.3 898.5,1510.1 899.5,1507.1 900.6,1510.0 901.6,1505.6 902.6,1511.5 903.6,1506.9 904.6,1509.4 905.6,1501.2 906.6,1508.2 907.6,1499.3 908.7,1497.7 909.7,1505.1 910.7,1502.4 911.7,1506.9 912.7,1515.7 913.7,1502.4 914.7,1503.2 915.7,1506.6 916.8,1507.8 917.8,1504.8 918.8,1504.5 919.8,1508.3 920.8,1507.4 921.8,1500.7 922.8,1504.7 923.8,1505.0 924.9,1500.3 925.9,1505.8 926.9,1500.9 927.9,1508.7 928.9,1505.3 929.9,1504.7 930.9,1501.7 931.9,1503.7 933.0,1495.6 934.0,1499.2 935.0,1505.6 936.0,1494.9 937.0,1507.6 938.0,1496.4 939.0,1507.2 940.0,1500.2 941.1,1507.2 942.1,1504.4 943.1,1497.2 944.1,1509.1 945.1,1509.9 946.1,1503.4 947.1,1502.5 948.1,1502.9 949.2,1499.4 950.2,1508.3 951.2,1501.2 952.2,1503.3 953.2,1500.0 954.2,1500.7 955.2,1497.9 956.3,1508.8 957.3,1502.7 958.3,1507.5 959.3,1503.3 960.3,1500.3 961.3,1501.8 962.3,1500.8 963.3,1503.2 964.4,1501.6 965.4,1501.9 966.4,1497.2 967.4,1499.6 968.4,1510.2 969.4,1500.2 970.4,1498.5 971.4,1504.5 972.5,1509.1 973.5,1496.8 974.5,1502.1 975.5,1500.3 976.5,1495.4 977.5,1506.2 978.5,1502.9 979.5,1503.3 980.6,1499.8 981.6,1505.0 982.6,1500.7 983.6,1502.4 984.6,1498.3 985.6,1497.9 986.6,1508.9 987.6,1501.0 988.7,1504.5 989.7,1503.1 990.7,1501.4 991.7,1501.2 992.7,1506.2 993.7,1502.2 994.7,1502.9 995.7,1503.7 996.8,1508.8 997.8,1506.7 998.8,1505.5 999.8,1501.5 1000.8,1498.1 1001.8,1508.2 1002.8,1508.3 1003.8,1503.6 1004.9,1506.7 1005.9,1507.8 1006.9,1508.0 1007.9,1508.5 1008.9,1502.7 1009.9,1511.2 1010.9,1499.4 1011.9,1508.5 1013.0,1507.0 1014.0,1508.7 1015.0,1513.0 1016.0,1511.4 1017.0,1500.1 1018.0,1497.8 1019.0,1508.6 1020.1,1500.8 1021.1,1505.1 1022.1,1508.8 1023.1,1498.1 1024.1,1496.1 1025.1,1506.3 1026.1,1505.2 1027.1,1503.8 1028.2,1504.9 1029.2,1500.8 1030.2,1497.7 1031.2,1503.2 1032.2,1499.5 1033.2,1496.3 1034.2,1505.2 1035.2,1502.4 1036.3,1504.1 1037.3,1497.8 1038.3,1498.9 1039.3,1497.2 1040.3,1497.4 1041.3,1501.8 1042.3,1497.4 1043.3,1502.2 1044.4,1502.0 1045.4,1509.2 1046.4,1494.5 1047.4,1504.4 1048.4,1500.2 1049.4,1500.6 1050.4,1494.6 1051.4,1498.9 1052.5,1504.3 1053.5,1500.9 1054.5,1501.7 1055.5,1500.3 1056.5,1506.7 1057.5,1501.8 1058.5,1492.6 1059.5,1499.3 1060.6,1493.9 1061.6,1488.6 1062.6,1500.4 1063.6,1508.5 1064.6,1503.1 1065.6,1497.9 1066.6,1498.9 1067.6,1507.9 1068.7,1503.7 1069.7,1503.2 1070.7,1502.7 1071.7,1503.1 1072.7,1506.3 1073.7,1505.2 1074.7,1503.7 1075.7,1498.2 1076.8,1504.8 1077.8,1499.6 1078.8,1507.1 1079.8,1496.9 1080.8,1501.6 1081.8,1502.1 1082.8,1496.3 1083.8,1509.3 1084.9,1508.1 1085.9,1499.7 1086.9,1504.9 1087.9,1503.1 1088.9,1490.1 1089.9,1502.3 1090.9,1500.8 1092.0,1501.3 1093.0,1496.2 1094.0,1499.6 1095.0,1499.8 1096.0,1505.6 1097.0,1501.8 1098.0,1500.2 1099.0,1506.7 1100.1,1497.7 1101.1,1498.3 1102.1,1492.1 1103.1,1506.6 1104.1,1503.9 1105.1,1503.6 1106.1,1502.5 1107.1,1500.1 1108.2,1500.5 1109.2,1498.4 1110.2,1498.6 1111.2,1499.7 1112.2,1506.0 1113.2,1501.9 1114.2,1499.3 1115.2,1497.2 1116.3,1497.0 1117.3,1506.7 1118.3,1502.1 1119.3,1500.4 1120.3,1498.7 1121.3,1495.6 1122.3,1500.2 1123.3,1504.5 1124.4,1499.2 1125.4,1500.1 1126.4,1500.3 1127.4,1501.9 1128.4,1494.8 1129.4,1500.8 1130.4,1498.4 1131.4,1506.0 1132.5,1499.1 1133.5,1505.1 1134.5,1509.3 1135.5,1501.6 1136.5,1500.5 1137.5,1504.1 1138.5,1503.4 1139.5,1499.3 1140.6,1505.7 1141.6,1512.5 1142.6,1502.8 1143.6,1503.1 1144.6,1499.5 1145.6,1505.5 1146.6,1498.8 1147.6,1499.4 1148.7,1509.8 1149.7,1500.4 1150.7,1509.0 1151.7,1511.0 1152.7,1505.6 1153.7,1506.9 1154.7,1513.0 1155.7,1503.8 1156.8,1502.1 1157.8,1498.9 1158.8,1504.9 1159.8,1511.2 1160.8,1509.0 1161.8,1500.8 1162.8,1501.2 1163.9,1502.8 1164.9,1506.2 1165.9,1504.1 1166.9,1506.0 1167.9,1506.4 1168.9,1503.8 1169.9,1505.0 1170.9,1506.0 1172.0,1504.8 1173.0,1507.3 1174.0,1513.2 1175.0,1507.7 1176.0,1505.4 1177.0,1497.9 1178.0,1506.8 1179.0,1496.6 1180.1,1498.5 1181.1,1507.9 1182.1,1506.7 1183.1,1502.5 1184.1,1495.1 1185.1,1500.2 1186.1,1498.2 1187.1,1503.1 1188.2,1509.4 1189.2,1499.9 1190.2,1495.0 1191.2,1492.7 1192.2,1497.0 1193.2,1496.0 1194.2,1491.4 1195.2,1496.6 1196.3,1491.1 1197.3,1500.9 1198.3,1501.5 1199.3,1502.9 1200.3,1497.8 1201.3,1503.8 1202.3,1502.8 1203.3,1503.2 1204.4,1504.4 1205.4,1500.7 1206.4,1500.1 1207.4,1509.6 1208.4,1505.3 1209.4,1507.0 1210.4,1510.2 1211.4,1498.3 1212.5,1502.1 1213.5,1506.1 1214.5,1506.8 1215.5,1503.2 1216.5,1509.0 1217.5,1505.3 1218.5,1498.9 1219.5,1499.8 1220.6,1507.1 1221.6,1505.3 1222.6,1495.0 1223.6,1508.7 1224.6,1505.3 1225.6,1508.3 1226.6,1500.7 1227.6,1500.9 1228.7,1497.2 1229.7,1512.9 1230.7,1501.2 1231.7,1508.7 1232.7,1499.1 1233.7,1502.7 1234.7,1494.8 1235.8,1500.4 1236.8,1506.4 1237.8,1496.9 1238.8,1507.0 1239.8,1504.0 1240.8,1498.2 1241.8,1500.7 1242.8,1501.0 1243.9,1502.9 1244.9,1501.0 1245.9,1499.8 1246.9,1502.2 1247.9,1499.2 1248.9,1498.2 1249.9,1503.6 1250.9,1507.7 1252.0,1497.4 1253.0,1504.0 1254.0,1501.2 1255.0,1499.7 1256.0,1507.5 1257.0,1501.5 1258.0,1510.0 1259.0,1500.0 1260.1,1504.7 1261.1,1501.8 1262.1,1499.3 1263.1,1504.8 1264.1,1501.4 1265.1,1504.4 1266.1,1501.3 1267.1,1496.6 1268.2,1500.7 1269.2,1501.2 1270.2,1505.0 1271.2,1496.9 1272.2,1500.6 1273.2,1493.3 1274.2,1503.5 1275.2,1496.0 1276.3,1492.8 1277.3,1500.3 1278.3,1505.2 1279.3,1493.9 1280.3,1495.7 1281.3,1497.2 1282.3,1495.5 1283.3,1502.0 1284.4,1496.8 1285.4,1497.2 1286.4,1502.7 1287.4,1497.0 1288.4,1502.0 1289.4,1496.0 1290.4,1494.9 1291.4,1492.2 1292.5,1508.1 1293.5,1498.7 1294.5,1501.1 1295.5,1499.9 1296.5,1500.7 1297.5,1500.2 1298.5,1508.2 1299.6,1495.5 1300.6,1493.3 1301.6,1495.7 1302.6,1494.3 1303.6,1503.2 1304.6,1503.5 1305.6,1496.0 1306.6,1494.2 1307.7,1498.9 1308.7,1506.6 1309.7,1488.7 1310.7,1503.4 1311.7,1496.8 1312.7,1506.2 1313.7,1497.5 1314.7,1501.3 1315.8,1496.4 1316.8,1499.1 1317.8,1509.6 1318.8,1507.6 1319.8,1502.7 1320.8,1501.1 1321.8,1497.1 1322.8,1503.9 1323.9,1505.8 1324.9,1505.9 1325.9,1506.1 1326.9,1502.0 1327.9,1506.8 1328.9,1507.1 1329.9,1512.9 1330.9,1515.5 1332.0,1506.9 1333.0,1504.1 1334.0,1506.9 1335.0,1504.1 1336.0,1502.8 1337.0,1505.0 1338.0,1499.9 1339.0,1506.1 1340.1,1502.1 1341.1,1502.7 1342.1,1499.9 1343.1,1496.8 1344.1,1495.1 1345.1,1497.6 1346.1,1495.9 1347.1,1499.0 1348.2,1498.0 1349.2,1492.5 1350.2,1499.1 1351.2,1493.8 1352.2,1497.7 1353.2,1500.0 1354.2,1493.4 1355.2,1503.7 1356.3,1505.0 1357.3,1504.7 1358.3,1504.5 1359.3,1505.5 1360.3,1503.6 1361.3,1507.1 1362.3,1506.1 1363.3,1508.9 1364.4,1503.3 1365.4,1509.4 1366.4,1508.9 1367.4,1507.5 1368.4,1506.1 1369.4,1510.1 1370.4,1500.4 1371.5,1509.3 1372.5,1508.1 1373.5,1508.0 1374.5,1508.1 1375.5,1503.4 1376.5,1504.8 1377.5,1508.4 1378.5,1507.2 1379.6,1505.9 1380.6,1498.2 1381.6,1506.8 1382.6,1509.3 1383.6,1508.3 1384.6,1504.8 1385.6,1496.9 1386.6,1507.4 1387.7,1502.6 1388.7,1492.2 1389.7,1504.7 1390.7,1496.6 1391.7,1497.4 1392.7,1500.4 1393.7,1508.7 1394.7,1501.9 1395.8,1504.9 1396.8,1511.6 1397.8,1511.4 1398.8,1504.5 1399.8,1504.3 1400.8,1500.4 1401.8,1503.4 1402.8,1508.7 1403.9,1509.0 1404.9,1508.3 1405.9,1512.5 1406.9,1505.3 1407.9,1508.8 1408.9,1512.5 1409.9,1512.1 1410.9,1514.4 1412.0,1511.7 1413.0,1508.7 1414.0,1511.5 1415.0,1505.5 1416.0,1502.6 1417.0,1512.0 1418.0,1509.0 1419.0,1510.2 1420.1,1501.2 1421.1,1506.6 1422.1,1505.2 1423.1,1503.7 1424.1,1497.3 1425.1,1505.1 1426.1,1510.0 1427.1,1507.4 1428.2,1502.8 1429.2,1505.0 1430.2,1508.0 1431.2,1492.6 1432.2,1503.7 1433.2,1506.4 1434.2,1507.0 1435.2,1511.3 1436.3,1508.9 1437.3,1505.4 1438.3,1505.4 1439.3,1507.5 1440.3,1501.8 1441.3,1504.0 1442.3,1508.2 1443.4,1512.8 1444.4,1503.7 1445.4,1504.3 1446.4,1505.4 1447.4,1510.5 1448.4,1504.7 1449.4,1511.2 1450.4,1500.8 1451.5,1504.3 1452.5,1504.4 1453.5,1508.7 1454.5,1510.0 1455.5,1499.1 1456.5,1501.8 1457.5,1507.3 1458.5,1503.1 1459.6,1499.5 1460.6,1510.7 1461.6,1508.4 1462.6,1508.5 1463.6,1504.5 1464.6,1511.1 1465.6,1505.7 1466.6,1511.6 1467.7,1503.0 1468.7,1503.4 1469.7,1508.0 1470.7,1504.2 1471.7,1510.2 1472.7,1508.4 1473.7,1503.4 1474.7,1507.7 1475.8,1505.9 1476.8,1511.4 1477.8,1504.8 1478.8,1505.6 1479.8,1512.7 1480.8,1517.1 1481.8,1516.0 1482.8,1507.6 1483.9,1508.2 1484.9,1513.7 1485.9,1506.5 1486.9,1502.7 1487.9,1507.2 1488.9,1508.5 1489.9,1502.9 1490.9,1499.2 1492.0,1500.0 1493.0,1508.9 1494.0,1502.6 1495.0,1505.1 1496.0,1506.5 1497.0,1508.2 1498.0,1503.9 1499.0,1507.4 1500.1,1501.4 1501.1,1503.6 1502.1,1500.7 1503.1,1510.0 1504.1,1504.9 1505.1,1501.8 1506.1,1503.5 1507.1,1504.0 1508.2,1507.9 1509.2,1498.0 1510.2,1500.4 1511.2,1503.2 1512.2,1515.7 1513.2,1508.8 1514.2,1504.2 1515.3,1507.7 1516.3,1513.5 1517.3,1503.6 1518.3,1503.0 1519.3,1509.8 1520.3,1506.7 1521.3,1507.4 1522.3,1502.3 1523.4,1512.8 1524.4,1511.8 1525.4,1506.9 1526.4,1507.4 1527.4,1495.7 1528.4,1507.1 1529.4,1503.5 1530.4,1506.2 1531.5,1507.2 1532.5,1502.8 1533.5,1497.0 1534.5,1505.8 1535.5,1501.0 1536.5,1502.8 1537.5,1501.6 1538.5,1502.7 1539.6,1494.2 1540.6,1509.3 1541.6,1505.2 1542.6,1508.8 1543.6,1512.5 1544.6,1504.1 1545.6,1496.2 1546.6,1500.1 1547.7,1498.7 1548.7,1501.7 1549.7,1504.2 1550.7,1495.2 1551.7,1505.2 1552.7,1497.2 1553.7,1505.0 1554.7,1503.2 1555.8,1502.3 1556.8,1503.3 1557.8,1501.2 1558.8,1500.9 1559.8,1496.2 1560.8,1503.3 1561.8,1511.3 1562.8,1511.9 1563.9,1509.0 1564.9,1506.3 1565.9,1500.3 1566.9,1509.4 1567.9,1502.9 1568.9,1502.8 1569.9,1501.8 1570.9,1503.4 1572.0,1501.1 1573.0,1502.6 1574.0,1498.2 1575.0,1501.2 1576.0,1512.6 1577.0,1502.5 1578.0,1501.7 1579.1,1505.0 1580.1,1505.7 1581.1,1497.8 1582.1,1501.7 1583.1,1506.5 1584.1,1503.7 1585.1,1503.0 1586.1,1509.1 1587.2,1499.5 1588.2,1502.7 1589.2,1500.1 1590.2,1508.7 1591.2,1493.9 1592.2,1499.4 1593.2,1500.0 1594.2,1505.1 1595.3,1504.8 1596.3,1508.2 1597.3,1495.4 1598.3,1505.3 1599.3,1500.8 1600.3,1499.2 1601.3,1504.4 1602.3,1498.1 1603.4,1493.1 1604.4,1500.4 1605.4,1495.6 1606.4,1499.2 1607.4,1503.6 1608.4,1503.3 1609.4,1508.8 1610.4,1501.1 1611.5,1495.4 1612.5,1498.8 1613.5,1498.1 1614.5,1496.8 1615.5,1504.0 1616.5,1499.3 1617.5,1493.6 1618.5,1505.2 1619.6,1501.7 1620.6,1503.8 1621.6,1502.8 1622.6,1505.1 1623.6,1502.6 1624.6,1507.8 1625.6,1504.4 1626.6,1504.3 1627.7,1504.5 1628.7,1496.5 1629.7,1502.2 1630.7,1501.8 1631.7,1503.9 1632.7,1497.3 1633.7,1510.2 1634.7,1503.7 1635.8,1498.2 1636.8,1496.1 1637.8,1502.3 1638.8,1503.2 1639.8,1500.6 1640.8,1504.2 1641.8,1501.1 1642.8,1506.4 1643.9,1501.0 1644.9,1504.0 1645.9,1508.5 1646.9,1515.4 1647.9,1500.1 1648.9,1502.5 1649.9,1501.0 1651.0,1508.1 1652.0,1499.9 1653.0,1502.8 1654.0,1504.8 1655.0,1500.8 1656.0,1501.0 1657.0,1503.2 1658.0,1496.3 1659.1,1499.1 1660.1,1503.6 1661.1,1506.1 1662.1,1504.8 1663.1,1498.0 1664.1,1503.7 1665.1,1509.2 1666.1,1508.2 1667.2,1505.5 1668.2,1502.0 1669.2,1508.6 1670.2,1503.4 1671.2,1500.9 1672.2,1502.5 1673.2,1512.2 1674.2,1506.9 1675.3,1511.0 1676.3,1503.9 1677.3,1510.0 1678.3,1503.4 1679.3,1505.3 1680.3,1516.7 1681.3,1509.3 1682.3,1503.8 1683.4,1505.6 1684.4,1507.4 1685.4,1511.2 1686.4,1503.9 1687.4,1498.5 1688.4,1504.8 1689.4,1506.0 1690.4,1506.4 1691.5,1511.6 1692.5,1507.3 1693.5,1509.4 1694.5,1501.2 1695.5,1509.6 1696.5,1514.9 1697.5,1509.2 1698.5,1507.0 1699.6,1506.5 1700.6,1513.5 1701.6,1501.8 1702.6,1505.3 1703.6,1507.8 1704.6,1508.9 1705.6,1503.8 1706.6,1507.0 1707.7,1504.5 1708.7,1506.2 1709.7,1505.0 1710.7,1500.7 1711.7,1505.5 1712.7,1509.3 1713.7,1501.3 1714.7,1504.4 1715.8,1508.3 1716.8,1500.7 1717.8,1506.1 1718.8,1500.7" fill="none" stroke="#0071E5" stroke-width="5.0" stroke-linejoin="round" clip-path="url(#cc)"/>
<polyline points="808.4,1377.1 809.4,1379.9 810.4,1363.5 811.4,1372.7 812.5,1377.1 813.5,1378.5 814.5,1375.8 815.5,1379.1 816.5,1374.5 817.5,1375.5 818.5,1374.1 819.5,1369.4 820.6,1370.3 821.6,1375.0 822.6,1371.3 823.6,1378.4 824.6,1378.5 825.6,1380.5 826.6,1373.5 827.6,1378.9 828.7,1370.2 829.7,1370.6 830.7,1374.0 831.7,1374.8 832.7,1367.7 833.7,1367.2 834.7,1375.1 835.7,1370.5 836.8,1378.4 837.8,1375.3 838.8,1375.0 839.8,1374.6 840.8,1377.2 841.8,1373.2 842.8,1378.0 843.8,1371.8 844.9,1373.0 845.9,1371.3 846.9,1376.1 847.9,1374.0 848.9,1370.6 849.9,1381.5 850.9,1372.5 851.9,1373.4 853.0,1375.4 854.0,1380.5 855.0,1373.3 856.0,1376.6 857.0,1374.3 858.0,1368.3 859.0,1376.9 860.0,1377.8 861.1,1373.0 862.1,1373.8 863.1,1368.2 864.1,1368.1 865.1,1372.4 866.1,1376.3 867.1,1372.1 868.1,1375.0 869.2,1377.6 870.2,1374.3 871.2,1376.1 872.2,1379.4 873.2,1369.1 874.2,1376.7 875.2,1366.7 876.2,1375.4 877.3,1374.5 878.3,1371.6 879.3,1369.6 880.3,1373.4 881.3,1372.0 882.3,1373.9 883.3,1370.0 884.4,1375.4 885.4,1369.3 886.4,1372.0 887.4,1371.6 888.4,1377.8 889.4,1367.2 890.4,1371.3 891.4,1377.2 892.5,1370.1 893.5,1367.8 894.5,1373.5 895.5,1371.2 896.5,1375.4 897.5,1368.6 898.5,1372.8 899.5,1374.5 900.6,1375.8 901.6,1367.5 902.6,1377.0 903.6,1368.1 904.6,1365.7 905.6,1367.7 906.6,1371.8 907.6,1369.9 908.7,1372.7 909.7,1372.8 910.7,1372.1 911.7,1369.8 912.7,1377.6 913.7,1362.2 914.7,1364.0 915.7,1368.5 916.8,1365.6 917.8,1360.6 918.8,1367.2 919.8,1367.3 920.8,1360.7 921.8,1373.2 922.8,1374.8 923.8,1374.4 924.9,1367.7 925.9,1370.1 926.9,1365.2 927.9,1370.1 928.9,1366.7 929.9,1370.7 930.9,1367.8 931.9,1372.9 933.0,1372.0 934.0,1373.5 935.0,1362.6 936.0,1361.7 937.0,1370.0 938.0,1366.2 939.0,1369.8 940.0,1369.4 941.1,1368.8 942.1,1371.6 943.1,1370.1 944.1,1369.7 945.1,1364.5 946.1,1374.4 947.1,1368.2 948.1,1371.9 949.2,1368.9 950.2,1372.4 951.2,1368.1 952.2,1368.3 953.2,1368.0 954.2,1364.8 955.2,1365.3 956.3,1366.9 957.3,1367.0 958.3,1363.7 959.3,1376.4 960.3,1363.7 961.3,1366.3 962.3,1376.7 963.3,1364.9 964.4,1370.4 965.4,1370.0 966.4,1366.7 967.4,1362.1 968.4,1361.6 969.4,1367.5 970.4,1369.2 971.4,1359.4 972.5,1368.2 973.5,1365.2 974.5,1371.1 975.5,1368.4 976.5,1364.7 977.5,1366.2 978.5,1368.0 979.5,1373.0 980.6,1379.5 981.6,1369.3 982.6,1368.5 983.6,1370.7 984.6,1368.2 985.6,1370.8 986.6,1369.9 987.6,1368.5 988.7,1365.5 989.7,1369.2 990.7,1372.0 991.7,1368.9 992.7,1374.4 993.7,1372.2 994.7,1368.2 995.7,1375.3 996.8,1364.5 997.8,1373.2 998.8,1375.8 999.8,1367.8 1000.8,1368.4 1001.8,1372.4 1002.8,1374.2 1003.8,1370.5 1004.9,1369.7 1005.9,1372.3 1006.9,1369.8 1007.9,1364.2 1008.9,1368.0 1009.9,1368.6 1010.9,1362.9 1011.9,1370.1 1013.0,1365.7 1014.0,1371.3 1015.0,1362.8 1016.0,1364.9 1017.0,1362.8 1018.0,1373.2 1019.0,1373.1 1020.1,1373.8 1021.1,1373.8 1022.1,1371.6 1023.1,1371.5 1024.1,1361.6 1025.1,1369.2 1026.1,1366.0 1027.1,1366.7 1028.2,1363.1 1029.2,1372.7 1030.2,1368.1 1031.2,1361.6 1032.2,1368.8 1033.2,1366.0 1034.2,1361.5 1035.2,1363.0 1036.3,1359.4 1037.3,1351.3 1038.3,1351.1 1039.3,1354.8 1040.3,1349.4 1041.3,1343.6 1042.3,1332.0 1043.3,1327.9 1044.4,1324.4 1045.4,1321.5 1046.4,1311.8 1047.4,1309.3 1048.4,1318.6 1049.4,1318.5 1050.4,1323.8 1051.4,1332.4 1052.5,1345.0 1053.5,1367.3 1054.5,1377.9 1055.5,1383.4 1056.5,1389.9 1057.5,1408.9 1058.5,1414.2 1059.5,1416.0 1060.6,1415.5 1061.6,1403.9 1062.6,1403.3 1063.6,1406.3 1064.6,1398.4 1065.6,1395.6 1066.6,1387.9 1067.6,1383.1 1068.7,1384.1 1069.7,1377.4 1070.7,1376.5 1071.7,1375.6 1072.7,1374.2 1073.7,1376.8 1074.7,1376.9 1075.7,1366.1 1076.8,1370.0 1077.8,1368.4 1078.8,1373.6 1079.8,1366.4 1080.8,1373.1 1081.8,1372.3 1082.8,1371.2 1083.8,1364.7 1084.9,1366.9 1085.9,1363.1 1086.9,1368.2 1087.9,1369.9 1088.9,1360.2 1089.9,1362.8 1090.9,1365.4 1092.0,1364.0 1093.0,1371.8 1094.0,1365.6 1095.0,1367.2 1096.0,1362.1 1097.0,1372.3 1098.0,1367.2 1099.0,1369.7 1100.1,1367.2 1101.1,1359.0 1102.1,1361.1 1103.1,1362.4 1104.1,1369.3 1105.1,1365.7 1106.1,1369.4 1107.1,1369.0 1108.2,1369.0 1109.2,1371.7 1110.2,1369.0 1111.2,1362.2 1112.2,1365.9 1113.2,1375.0 1114.2,1364.7 1115.2,1374.1 1116.3,1375.3 1117.3,1366.9 1118.3,1370.6 1119.3,1364.1 1120.3,1372.5 1121.3,1366.7 1122.3,1364.9 1123.3,1368.5 1124.4,1368.3 1125.4,1367.9 1126.4,1371.0 1127.4,1369.7 1128.4,1367.9 1129.4,1374.1 1130.4,1379.7 1131.4,1370.8 1132.5,1367.9 1133.5,1366.8 1134.5,1372.8 1135.5,1369.6 1136.5,1370.6 1137.5,1363.0 1138.5,1366.2 1139.5,1366.1 1140.6,1374.0 1141.6,1369.4 1142.6,1360.9 1143.6,1372.1 1144.6,1374.5 1145.6,1375.1 1146.6,1359.5 1147.6,1370.6 1148.7,1373.0 1149.7,1372.2 1150.7,1368.9 1151.7,1362.9 1152.7,1368.0 1153.7,1368.4 1154.7,1371.7 1155.7,1371.9 1156.8,1368.4 1157.8,1372.5 1158.8,1365.2 1159.8,1366.6 1160.8,1369.0 1161.8,1371.2 1162.8,1367.7 1163.9,1373.5 1164.9,1370.4 1165.9,1365.1 1166.9,1369.0 1167.9,1365.3 1168.9,1364.9 1169.9,1363.1 1170.9,1373.8 1172.0,1371.9 1173.0,1362.4 1174.0,1372.6 1175.0,1372.0 1176.0,1366.9 1177.0,1370.1 1178.0,1376.6 1179.0,1368.9 1180.1,1369.0 1181.1,1371.1 1182.1,1362.0 1183.1,1359.7 1184.1,1357.2 1185.1,1359.5 1186.1,1359.4 1187.1,1348.1 1188.2,1340.1 1189.2,1338.7 1190.2,1328.0 1191.2,1322.1 1192.2,1309.2 1193.2,1299.0 1194.2,1290.2 1195.2,1283.3 1196.3,1274.9 1197.3,1273.3 1198.3,1287.1 1199.3,1301.0 1200.3,1306.5 1201.3,1313.2 1202.3,1339.9 1203.3,1366.7 1204.4,1378.1 1205.4,1403.0 1206.4,1421.6 1207.4,1434.4 1208.4,1445.2 1209.4,1458.2 1210.4,1454.2 1211.4,1452.7 1212.5,1454.6 1213.5,1437.0 1214.5,1423.8 1215.5,1424.0 1216.5,1419.7 1217.5,1404.1 1218.5,1396.8 1219.5,1384.3 1220.6,1380.3 1221.6,1385.4 1222.6,1381.5 1223.6,1376.6 1224.6,1370.3 1225.6,1367.1 1226.6,1366.9 1227.6,1366.0 1228.7,1372.4 1229.7,1366.9 1230.7,1367.9 1231.7,1372.3 1232.7,1372.2 1233.7,1369.7 1234.7,1371.2 1235.8,1369.2 1236.8,1361.6 1237.8,1368.4 1238.8,1366.8 1239.8,1366.8 1240.8,1368.7 1241.8,1365.4 1242.8,1371.9 1243.9,1366.2 1244.9,1367.2 1245.9,1367.5 1246.9,1365.4 1247.9,1368.2 1248.9,1368.4 1249.9,1367.7 1250.9,1362.5 1252.0,1361.6 1253.0,1362.7 1254.0,1365.0 1255.0,1357.8 1256.0,1361.7 1257.0,1360.5 1258.0,1362.4 1259.0,1361.4 1260.1,1368.0 1261.1,1366.6 1262.1,1368.6 1263.1,1361.1 1264.1,1361.9 1265.1,1363.8 1266.1,1371.2 1267.1,1371.3 1268.2,1362.6 1269.2,1367.3 1270.2,1373.1 1271.2,1361.0 1272.2,1364.3 1273.2,1370.1 1274.2,1368.2 1275.2,1362.0 1276.3,1371.9 1277.3,1370.3 1278.3,1369.6 1279.3,1362.8 1280.3,1367.4 1281.3,1373.6 1282.3,1371.0 1283.3,1372.7 1284.4,1369.2 1285.4,1376.4 1286.4,1370.2 1287.4,1375.1 1288.4,1373.2 1289.4,1368.6 1290.4,1378.2 1291.4,1367.9 1292.5,1370.0 1293.5,1373.3 1294.5,1367.4 1295.5,1365.9 1296.5,1372.3 1297.5,1371.0 1298.5,1371.5 1299.6,1374.4 1300.6,1381.1 1301.6,1370.8 1302.6,1381.6 1303.6,1373.1 1304.6,1371.7 1305.6,1361.7 1306.6,1366.1 1307.7,1372.8 1308.7,1373.8 1309.7,1368.4 1310.7,1372.6 1311.7,1374.8 1312.7,1369.1 1313.7,1365.0 1314.7,1367.3 1315.8,1369.8 1316.8,1371.9 1317.8,1373.7 1318.8,1367.2 1319.8,1370.8 1320.8,1369.6 1321.8,1370.7 1322.8,1374.7 1323.9,1375.4 1324.9,1368.6 1325.9,1368.1 1326.9,1367.7 1327.9,1368.3 1328.9,1368.6 1329.9,1369.4 1330.9,1367.8 1332.0,1365.1 1333.0,1363.9 1334.0,1367.4 1335.0,1374.7 1336.0,1365.1 1337.0,1362.0 1338.0,1356.4 1339.0,1348.7 1340.1,1349.9 1341.1,1332.8 1342.1,1320.9 1343.1,1309.9 1344.1,1305.3 1345.1,1291.6 1346.1,1284.6 1347.1,1279.9 1348.2,1277.2 1349.2,1286.3 1350.2,1287.5 1351.2,1315.5 1352.2,1313.6 1353.2,1339.2 1354.2,1367.0 1355.2,1390.0 1356.3,1407.2 1357.3,1427.0 1358.3,1440.3 1359.3,1449.5 1360.3,1456.0 1361.3,1455.0 1362.3,1450.3 1363.3,1443.9 1364.4,1439.5 1365.4,1426.0 1366.4,1419.3 1367.4,1414.1 1368.4,1401.3 1369.4,1397.3 1370.4,1385.2 1371.5,1383.3 1372.5,1380.7 1373.5,1377.0 1374.5,1376.1 1375.5,1378.3 1376.5,1370.9 1377.5,1369.0 1378.5,1372.4 1379.6,1365.4 1380.6,1370.7 1381.6,1375.2 1382.6,1370.6 1383.6,1372.7 1384.6,1372.1 1385.6,1375.2 1386.6,1372.5 1387.7,1371.4 1388.7,1357.9 1389.7,1368.6 1390.7,1373.3 1391.7,1370.0 1392.7,1367.7 1393.7,1374.0 1394.7,1367.2 1395.8,1369.2 1396.8,1373.1 1397.8,1368.5 1398.8,1371.1 1399.8,1370.4 1400.8,1365.9 1401.8,1368.4 1402.8,1369.0 1403.9,1368.0 1404.9,1374.6 1405.9,1370.3 1406.9,1368.0 1407.9,1365.1 1408.9,1369.1 1409.9,1375.3 1410.9,1369.2 1412.0,1373.2 1413.0,1372.1 1414.0,1368.4 1415.0,1366.7 1416.0,1372.4 1417.0,1363.9 1418.0,1372.5 1419.0,1365.8 1420.1,1373.6 1421.1,1368.9 1422.1,1370.0 1423.1,1374.4 1424.1,1366.6 1425.1,1370.6 1426.1,1369.2 1427.1,1372.4 1428.2,1373.3 1429.2,1371.8 1430.2,1371.6 1431.2,1369.4 1432.2,1373.4 1433.2,1370.4 1434.2,1371.9 1435.2,1372.3 1436.3,1366.6 1437.3,1367.7 1438.3,1373.0 1439.3,1372.3 1440.3,1377.4 1441.3,1363.6 1442.3,1373.8 1443.4,1377.4 1444.4,1373.8 1445.4,1376.6 1446.4,1373.9 1447.4,1373.8 1448.4,1377.6 1449.4,1369.4 1450.4,1365.9 1451.5,1376.4 1452.5,1375.1 1453.5,1375.2 1454.5,1375.9 1455.5,1377.2 1456.5,1373.1 1457.5,1376.7 1458.5,1376.1 1459.6,1370.5 1460.6,1374.2 1461.6,1375.7 1462.6,1371.6 1463.6,1378.4 1464.6,1373.2 1465.6,1377.3 1466.6,1379.6 1467.7,1368.4 1468.7,1368.8 1469.7,1375.9 1470.7,1372.8 1471.7,1375.3 1472.7,1379.8 1473.7,1371.3 1474.7,1376.3 1475.8,1372.0 1476.8,1370.4 1477.8,1374.5 1478.8,1373.7 1479.8,1376.7 1480.8,1373.6 1481.8,1375.5 1482.8,1373.9 1483.9,1364.9 1484.9,1369.3 1485.9,1368.4 1486.9,1371.5 1487.9,1362.1 1488.9,1364.2 1489.9,1358.6 1490.9,1349.2 1492.0,1350.8 1493.0,1348.6 1494.0,1339.4 1495.0,1339.1 1496.0,1332.4 1497.0,1328.7 1498.0,1324.0 1499.0,1325.8 1500.1,1331.3 1501.1,1335.3 1502.1,1338.7 1503.1,1352.9 1504.1,1366.6 1505.1,1381.4 1506.1,1392.0 1507.1,1395.5 1508.2,1410.4 1509.2,1407.8 1510.2,1414.9 1511.2,1415.2 1512.2,1422.7 1513.2,1416.4 1514.2,1410.6 1515.3,1401.9 1516.3,1403.6 1517.3,1392.7 1518.3,1390.7 1519.3,1389.0 1520.3,1380.2 1521.3,1380.7 1522.3,1369.1 1523.4,1377.2 1524.4,1367.5 1525.4,1374.7 1526.4,1373.8 1527.4,1374.1 1528.4,1380.9 1529.4,1362.5 1530.4,1373.6 1531.5,1370.3 1532.5,1374.7 1533.5,1373.0 1534.5,1372.2 1535.5,1369.9 1536.5,1369.1 1537.5,1373.1 1538.5,1366.1 1539.6,1375.9 1540.6,1369.6 1541.6,1373.5 1542.6,1367.3 1543.6,1373.5 1544.6,1370.9 1545.6,1374.7 1546.6,1376.4 1547.7,1369.7 1548.7,1372.2 1549.7,1372.7 1550.7,1377.4 1551.7,1366.9 1552.7,1374.1 1553.7,1371.8 1554.7,1367.3 1555.8,1370.6 1556.8,1369.4 1557.8,1376.1 1558.8,1368.4 1559.8,1375.8 1560.8,1370.3 1561.8,1374.6 1562.8,1365.6 1563.9,1369.2 1564.9,1372.7 1565.9,1368.6 1566.9,1366.2 1567.9,1372.2 1568.9,1375.2 1569.9,1372.2 1570.9,1371.4 1572.0,1373.8 1573.0,1370.7 1574.0,1375.8 1575.0,1376.5 1576.0,1367.5 1577.0,1376.4 1578.0,1375.0 1579.1,1373.5 1580.1,1375.1 1581.1,1377.9 1582.1,1379.8 1583.1,1378.7 1584.1,1371.7 1585.1,1377.7 1586.1,1366.3 1587.2,1376.1 1588.2,1375.4 1589.2,1376.5 1590.2,1369.4 1591.2,1378.3 1592.2,1377.7 1593.2,1373.6 1594.2,1367.5 1595.3,1374.1 1596.3,1369.7 1597.3,1367.0 1598.3,1370.2 1599.3,1381.8 1600.3,1367.3 1601.3,1371.6 1602.3,1373.6 1603.4,1376.5 1604.4,1369.1 1605.4,1369.2 1606.4,1376.2 1607.4,1373.9 1608.4,1377.5 1609.4,1368.4 1610.4,1372.4 1611.5,1376.3 1612.5,1373.3 1613.5,1368.5 1614.5,1373.2 1615.5,1365.6 1616.5,1369.8 1617.5,1375.7 1618.5,1376.1 1619.6,1374.3 1620.6,1375.3 1621.6,1367.0 1622.6,1370.2 1623.6,1376.6 1624.6,1381.3 1625.6,1374.4 1626.6,1369.2 1627.7,1369.0 1628.7,1377.2 1629.7,1376.7 1630.7,1368.0 1631.7,1373.1 1632.7,1377.8 1633.7,1377.9 1634.7,1370.5 1635.8,1371.8 1636.8,1374.3 1637.8,1368.3 1638.8,1366.3 1639.8,1369.8 1640.8,1377.0 1641.8,1376.5 1642.8,1374.2 1643.9,1367.9 1644.9,1364.9 1645.9,1368.3 1646.9,1372.3 1647.9,1376.1 1648.9,1368.8 1649.9,1372.4 1651.0,1365.2 1652.0,1364.0 1653.0,1371.9 1654.0,1367.4 1655.0,1367.9 1656.0,1363.2 1657.0,1374.8 1658.0,1364.9 1659.1,1371.7 1660.1,1365.9 1661.1,1370.1 1662.1,1376.6 1663.1,1372.4 1664.1,1371.9 1665.1,1374.8 1666.1,1373.4 1667.2,1376.7 1668.2,1365.8 1669.2,1376.5 1670.2,1371.6 1671.2,1367.4 1672.2,1373.6 1673.2,1373.3 1674.2,1371.3 1675.3,1374.5 1676.3,1366.3 1677.3,1365.0 1678.3,1369.0 1679.3,1375.4 1680.3,1373.2 1681.3,1371.2 1682.3,1368.8 1683.4,1371.2 1684.4,1375.6 1685.4,1369.1 1686.4,1368.9 1687.4,1372.8 1688.4,1373.6 1689.4,1371.7 1690.4,1376.6 1691.5,1371.9 1692.5,1367.4 1693.5,1362.8 1694.5,1375.6 1695.5,1370.5 1696.5,1372.3 1697.5,1372.8 1698.5,1376.2 1699.6,1375.0 1700.6,1374.8 1701.6,1372.2 1702.6,1370.2 1703.6,1372.1 1704.6,1368.0 1705.6,1372.4 1706.6,1375.1 1707.7,1373.7 1708.7,1371.6 1709.7,1367.6 1710.7,1367.6 1711.7,1368.2 1712.7,1369.3 1713.7,1372.5 1714.7,1372.7 1715.8,1373.0 1716.8,1374.6 1717.8,1367.0 1718.8,1369.9" fill="none" stroke="#C076E4" stroke-width="5.0" stroke-linejoin="round" clip-path="url(#cc)"/>
<polyline points="808.4,1144.8 809.4,1142.8 810.4,1146.9 811.4,1149.4 812.5,1152.1 813.5,1148.2 814.5,1145.7 815.5,1144.8 816.5,1150.6 817.5,1154.0 818.5,1148.8 819.5,1143.1 820.6,1144.2 821.6,1153.9 822.6,1148.6 823.6,1141.2 824.6,1147.5 825.6,1143.4 826.6,1145.4 827.6,1145.9 828.7,1145.1 829.7,1149.9 830.7,1147.6 831.7,1145.6 832.7,1149.4 833.7,1151.0 834.7,1141.6 835.7,1146.8 836.8,1144.1 837.8,1147.1 838.8,1142.9 839.8,1147.9 840.8,1147.7 841.8,1146.6 842.8,1143.8 843.8,1146.3 844.9,1143.7 845.9,1142.7 846.9,1148.7 847.9,1143.6 848.9,1152.2 849.9,1150.5 850.9,1140.2 851.9,1148.8 853.0,1143.6 854.0,1147.9 855.0,1147.9 856.0,1140.2 857.0,1146.8 858.0,1146.7 859.0,1151.3 860.0,1143.1 861.1,1150.3 862.1,1143.3 863.1,1146.2 864.1,1144.2 865.1,1152.9 866.1,1149.5 867.1,1156.5 868.1,1149.6 869.2,1150.4 870.2,1150.3 871.2,1144.7 872.2,1146.7 873.2,1152.0 874.2,1145.3 875.2,1147.5 876.2,1146.6 877.3,1149.0 878.3,1145.2 879.3,1145.9 880.3,1147.4 881.3,1146.8 882.3,1143.0 883.3,1149.6 884.4,1141.2 885.4,1141.5 886.4,1141.1 887.4,1149.6 888.4,1144.5 889.4,1142.1 890.4,1141.4 891.4,1147.3 892.5,1141.6 893.5,1140.7 894.5,1147.8 895.5,1140.9 896.5,1144.1 897.5,1145.3 898.5,1143.5 899.5,1144.9 900.6,1150.2 901.6,1143.1 902.6,1140.2 903.6,1137.9 904.6,1144.1 905.6,1143.5 906.6,1145.8 907.6,1143.0 908.7,1142.9 909.7,1141.9 910.7,1142.6 911.7,1145.2 912.7,1143.1 913.7,1144.9 914.7,1151.7 915.7,1146.3 916.8,1138.5 917.8,1151.0 918.8,1145.7 919.8,1140.8 920.8,1147.8 921.8,1144.4 922.8,1142.0 923.8,1141.9 924.9,1140.5 925.9,1144.4 926.9,1148.3 927.9,1142.9 928.9,1145.7 929.9,1151.2 930.9,1139.5 931.9,1145.0 933.0,1142.9 934.0,1140.0 935.0,1140.1 936.0,1143.9 937.0,1145.6 938.0,1141.9 939.0,1144.1 940.0,1146.6 941.1,1145.0 942.1,1147.1 943.1,1145.6 944.1,1145.7 945.1,1150.7 946.1,1146.1 947.1,1144.2 948.1,1146.4 949.2,1140.2 950.2,1142.4 951.2,1146.7 952.2,1146.1 953.2,1149.5 954.2,1143.7 955.2,1138.0 956.3,1151.0 957.3,1147.7 958.3,1139.5 959.3,1148.8 960.3,1143.7 961.3,1136.6 962.3,1141.9 963.3,1141.6 964.4,1149.5 965.4,1140.5 966.4,1142.5 967.4,1142.4 968.4,1142.0 969.4,1140.0 970.4,1144.3 971.4,1147.5 972.5,1145.8 973.5,1139.9 974.5,1139.0 975.5,1143.9 976.5,1140.7 977.5,1141.0 978.5,1137.0 979.5,1150.8 980.6,1146.9 981.6,1139.7 982.6,1146.9 983.6,1148.5 984.6,1134.3 985.6,1141.3 986.6,1141.9 987.6,1145.9 988.7,1142.9 989.7,1142.5 990.7,1143.2 991.7,1150.4 992.7,1151.6 993.7,1141.4 994.7,1139.9 995.7,1153.6 996.8,1139.7 997.8,1141.2 998.8,1143.5 999.8,1145.2 1000.8,1147.3 1001.8,1144.9 1002.8,1140.1 1003.8,1145.3 1004.9,1144.3 1005.9,1150.5 1006.9,1143.3 1007.9,1138.3 1008.9,1139.4 1009.9,1148.9 1010.9,1141.3 1011.9,1135.4 1013.0,1141.2 1014.0,1143.4 1015.0,1147.9 1016.0,1139.5 1017.0,1145.9 1018.0,1146.4 1019.0,1140.7 1020.1,1142.7 1021.1,1150.1 1022.1,1149.9 1023.1,1146.7 1024.1,1144.7 1025.1,1147.7 1026.1,1142.9 1027.1,1143.0 1028.2,1140.1 1029.2,1143.4 1030.2,1143.1 1031.2,1153.9 1032.2,1142.5 1033.2,1147.9 1034.2,1147.8 1035.2,1141.6 1036.3,1146.0 1037.3,1132.0 1038.3,1138.7 1039.3,1138.8 1040.3,1122.5 1041.3,1121.9 1042.3,1123.7 1043.3,1110.8 1044.4,1098.8 1045.4,1092.6 1046.4,1083.9 1047.4,1082.6 1048.4,1078.7 1049.4,1077.4 1050.4,1082.3 1051.4,1096.1 1052.5,1117.1 1053.5,1132.2 1054.5,1153.2 1055.5,1169.1 1056.5,1181.1 1057.5,1195.6 1058.5,1208.3 1059.5,1208.8 1060.6,1203.1 1061.6,1195.1 1062.6,1194.1 1063.6,1183.8 1064.6,1175.1 1065.6,1167.2 1066.6,1162.7 1067.6,1157.2 1068.7,1155.6 1069.7,1152.4 1070.7,1151.9 1071.7,1148.5 1072.7,1143.3 1073.7,1143.9 1074.7,1145.6 1075.7,1142.4 1076.8,1145.6 1077.8,1147.8 1078.8,1140.4 1079.8,1136.7 1080.8,1147.9 1081.8,1143.5 1082.8,1146.1 1083.8,1138.3 1084.9,1149.9 1085.9,1146.1 1086.9,1142.8 1087.9,1141.9 1088.9,1143.7 1089.9,1142.6 1090.9,1142.1 1092.0,1138.9 1093.0,1147.9 1094.0,1143.0 1095.0,1143.4 1096.0,1143.4 1097.0,1134.1 1098.0,1145.0 1099.0,1141.7 1100.1,1141.8 1101.1,1143.1 1102.1,1139.1 1103.1,1146.0 1104.1,1140.1 1105.1,1139.3 1106.1,1139.4 1107.1,1143.3 1108.2,1145.5 1109.2,1140.4 1110.2,1136.8 1111.2,1146.6 1112.2,1138.5 1113.2,1147.1 1114.2,1142.3 1115.2,1139.8 1116.3,1140.0 1117.3,1144.2 1118.3,1145.8 1119.3,1141.7 1120.3,1146.0 1121.3,1150.3 1122.3,1141.6 1123.3,1138.0 1124.4,1138.4 1125.4,1137.2 1126.4,1140.1 1127.4,1139.8 1128.4,1137.6 1129.4,1144.7 1130.4,1132.8 1131.4,1137.8 1132.5,1150.5 1133.5,1146.9 1134.5,1145.0 1135.5,1144.9 1136.5,1150.0 1137.5,1145.4 1138.5,1143.7 1139.5,1138.9 1140.6,1143.4 1141.6,1140.9 1142.6,1141.1 1143.6,1141.2 1144.6,1143.8 1145.6,1142.8 1146.6,1147.5 1147.6,1139.2 1148.7,1143.6 1149.7,1151.4 1150.7,1144.5 1151.7,1149.0 1152.7,1148.8 1153.7,1149.5 1154.7,1147.3 1155.7,1139.2 1156.8,1143.4 1157.8,1143.0 1158.8,1138.4 1159.8,1142.5 1160.8,1139.4 1161.8,1137.7 1162.8,1144.7 1163.9,1143.6 1164.9,1141.0 1165.9,1139.9 1166.9,1141.3 1167.9,1141.7 1168.9,1141.5 1169.9,1142.7 1170.9,1141.1 1172.0,1144.1 1173.0,1144.6 1174.0,1143.9 1175.0,1139.9 1176.0,1140.0 1177.0,1144.0 1178.0,1141.5 1179.0,1141.9 1180.1,1132.4 1181.1,1131.2 1182.1,1142.0 1183.1,1140.9 1184.1,1143.3 1185.1,1138.2 1186.1,1132.6 1187.1,1126.7 1188.2,1114.4 1189.2,1114.4 1190.2,1097.9 1191.2,1089.2 1192.2,1073.6 1193.2,1058.6 1194.2,1046.0 1195.2,1027.4 1196.3,1017.8 1197.3,1011.0 1198.3,1014.1 1199.3,1030.6 1200.3,1039.2 1201.3,1068.6 1202.3,1096.6 1203.3,1129.5 1204.4,1163.2 1205.4,1187.2 1206.4,1219.8 1207.4,1246.3 1208.4,1252.9 1209.4,1263.4 1210.4,1262.2 1211.4,1261.3 1212.5,1246.7 1213.5,1244.5 1214.5,1223.0 1215.5,1204.3 1216.5,1203.6 1217.5,1188.5 1218.5,1176.7 1219.5,1168.5 1220.6,1158.8 1221.6,1154.6 1222.6,1154.8 1223.6,1153.2 1224.6,1151.6 1225.6,1147.9 1226.6,1144.7 1227.6,1145.4 1228.7,1150.1 1229.7,1151.2 1230.7,1144.4 1231.7,1143.8 1232.7,1150.4 1233.7,1148.3 1234.7,1148.2 1235.8,1140.5 1236.8,1144.0 1237.8,1143.4 1238.8,1146.1 1239.8,1138.9 1240.8,1150.0 1241.8,1146.2 1242.8,1146.6 1243.9,1140.4 1244.9,1144.6 1245.9,1149.7 1246.9,1138.5 1247.9,1145.5 1248.9,1146.9 1249.9,1141.4 1250.9,1147.0 1252.0,1142.5 1253.0,1148.3 1254.0,1145.4 1255.0,1144.1 1256.0,1150.7 1257.0,1146.1 1258.0,1147.7 1259.0,1138.0 1260.1,1139.9 1261.1,1145.3 1262.1,1145.3 1263.1,1141.2 1264.1,1144.0 1265.1,1136.6 1266.1,1141.0 1267.1,1135.4 1268.2,1140.8 1269.2,1137.4 1270.2,1136.6 1271.2,1139.2 1272.2,1146.0 1273.2,1135.4 1274.2,1137.2 1275.2,1143.9 1276.3,1138.7 1277.3,1147.5 1278.3,1142.1 1279.3,1142.2 1280.3,1143.8 1281.3,1149.7 1282.3,1146.2 1283.3,1146.2 1284.4,1145.8 1285.4,1139.5 1286.4,1142.6 1287.4,1152.1 1288.4,1150.0 1289.4,1149.2 1290.4,1149.9 1291.4,1145.6 1292.5,1149.1 1293.5,1144.4 1294.5,1149.3 1295.5,1145.0 1296.5,1146.8 1297.5,1149.3 1298.5,1146.2 1299.6,1149.8 1300.6,1148.9 1301.6,1148.4 1302.6,1151.9 1303.6,1141.1 1304.6,1140.4 1305.6,1148.6 1306.6,1149.7 1307.7,1153.6 1308.7,1148.6 1309.7,1148.7 1310.7,1141.9 1311.7,1148.0 1312.7,1147.5 1313.7,1140.7 1314.7,1141.1 1315.8,1143.9 1316.8,1145.3 1317.8,1132.8 1318.8,1144.2 1319.8,1144.6 1320.8,1143.0 1321.8,1144.6 1322.8,1145.2 1323.9,1139.6 1324.9,1145.0 1325.9,1142.4 1326.9,1139.7 1327.9,1144.1 1328.9,1148.8 1329.9,1137.5 1330.9,1136.5 1332.0,1136.0 1333.0,1149.0 1334.0,1139.4 1335.0,1138.3 1336.0,1133.0 1337.0,1128.8 1338.0,1119.8 1339.0,1121.7 1340.1,1114.0 1341.1,1095.6 1342.1,1087.5 1343.1,1075.6 1344.1,1064.5 1345.1,1051.7 1346.1,1042.3 1347.1,1032.8 1348.2,1025.0 1349.2,1024.3 1350.2,1019.0 1351.2,1032.1 1352.2,1055.8 1353.2,1075.8 1354.2,1102.6 1355.2,1125.8 1356.3,1156.7 1357.3,1195.0 1358.3,1218.8 1359.3,1237.1 1360.3,1251.6 1361.3,1255.4 1362.3,1266.1 1363.3,1266.0 1364.4,1261.2 1365.4,1244.9 1366.4,1231.6 1367.4,1215.2 1368.4,1211.1 1369.4,1201.0 1370.4,1181.6 1371.5,1176.1 1372.5,1168.0 1373.5,1159.8 1374.5,1148.1 1375.5,1153.1 1376.5,1154.5 1377.5,1145.1 1378.5,1146.4 1379.6,1136.4 1380.6,1153.3 1381.6,1150.1 1382.6,1148.1 1383.6,1146.8 1384.6,1145.2 1385.6,1147.2 1386.6,1146.2 1387.7,1146.3 1388.7,1147.0 1389.7,1147.4 1390.7,1152.6 1391.7,1141.1 1392.7,1147.4 1393.7,1143.8 1394.7,1141.7 1395.8,1136.8 1396.8,1147.9 1397.8,1141.6 1398.8,1142.3 1399.8,1146.7 1400.8,1140.6 1401.8,1144.7 1402.8,1144.1 1403.9,1147.3 1404.9,1147.9 1405.9,1140.6 1406.9,1147.3 1407.9,1143.3 1408.9,1144.0 1409.9,1142.7 1410.9,1146.4 1412.0,1138.8 1413.0,1144.4 1414.0,1147.8 1415.0,1142.3 1416.0,1151.2 1417.0,1140.8 1418.0,1144.5 1419.0,1142.0 1420.1,1141.7 1421.1,1140.0 1422.1,1142.3 1423.1,1144.4 1424.1,1141.8 1425.1,1148.4 1426.1,1151.1 1427.1,1139.8 1428.2,1149.0 1429.2,1146.8 1430.2,1147.3 1431.2,1155.9 1432.2,1151.4 1433.2,1148.4 1434.2,1148.0 1435.2,1139.4 1436.3,1150.8 1437.3,1145.2 1438.3,1148.9 1439.3,1148.8 1440.3,1152.2 1441.3,1156.4 1442.3,1152.5 1443.4,1153.7 1444.4,1148.1 1445.4,1150.7 1446.4,1151.9 1447.4,1143.5 1448.4,1156.7 1449.4,1146.2 1450.4,1144.0 1451.5,1155.0 1452.5,1156.7 1453.5,1145.9 1454.5,1146.1 1455.5,1160.1 1456.5,1148.6 1457.5,1140.5 1458.5,1145.6 1459.6,1155.3 1460.6,1150.1 1461.6,1150.3 1462.6,1151.9 1463.6,1149.7 1464.6,1145.7 1465.6,1140.7 1466.6,1148.4 1467.7,1142.3 1468.7,1146.2 1469.7,1152.9 1470.7,1148.2 1471.7,1146.2 1472.7,1146.2 1473.7,1148.6 1474.7,1149.2 1475.8,1140.7 1476.8,1146.3 1477.8,1152.1 1478.8,1148.4 1479.8,1142.5 1480.8,1142.7 1481.8,1137.3 1482.8,1141.8 1483.9,1150.4 1484.9,1143.2 1485.9,1139.0 1486.9,1138.4 1487.9,1137.8 1488.9,1134.7 1489.9,1129.7 1490.9,1123.0 1492.0,1122.3 1493.0,1118.8 1494.0,1103.4 1495.0,1095.8 1496.0,1095.2 1497.0,1079.1 1498.0,1078.4 1499.0,1077.8 1500.1,1081.7 1501.1,1085.5 1502.1,1092.4 1503.1,1109.4 1504.1,1118.9 1505.1,1133.5 1506.1,1148.9 1507.1,1174.8 1508.2,1178.9 1509.2,1197.9 1510.2,1206.2 1511.2,1210.7 1512.2,1207.6 1513.2,1203.9 1514.2,1201.7 1515.3,1192.9 1516.3,1183.3 1517.3,1185.7 1518.3,1170.6 1519.3,1174.6 1520.3,1164.3 1521.3,1156.2 1522.3,1156.1 1523.4,1156.4 1524.4,1144.5 1525.4,1144.8 1526.4,1143.3 1527.4,1147.3 1528.4,1147.8 1529.4,1146.1 1530.4,1143.1 1531.5,1143.7 1532.5,1150.2 1533.5,1149.9 1534.5,1146.1 1535.5,1140.6 1536.5,1148.0 1537.5,1146.7 1538.5,1146.6 1539.6,1152.3 1540.6,1148.8 1541.6,1142.0 1542.6,1142.1 1543.6,1151.0 1544.6,1146.6 1545.6,1149.2 1546.6,1145.5 1547.7,1142.4 1548.7,1147.2 1549.7,1152.2 1550.7,1147.6 1551.7,1142.1 1552.7,1145.3 1553.7,1144.7 1554.7,1147.3 1555.8,1150.6 1556.8,1154.3 1557.8,1147.7 1558.8,1145.3 1559.8,1147.3 1560.8,1147.1 1561.8,1145.5 1562.8,1147.3 1563.9,1147.2 1564.9,1142.8 1565.9,1149.5 1566.9,1146.1 1567.9,1143.8 1568.9,1149.4 1569.9,1145.7 1570.9,1154.3 1572.0,1149.5 1573.0,1148.0 1574.0,1144.9 1575.0,1146.3 1576.0,1151.1 1577.0,1145.3 1578.0,1150.8 1579.1,1140.0 1580.1,1148.7 1581.1,1151.1 1582.1,1149.3 1583.1,1148.0 1584.1,1151.9 1585.1,1144.8 1586.1,1144.3 1587.2,1148.5 1588.2,1152.7 1589.2,1149.7 1590.2,1147.3 1591.2,1149.2 1592.2,1149.8 1593.2,1143.3 1594.2,1137.4 1595.3,1144.2 1596.3,1142.4 1597.3,1145.8 1598.3,1143.5 1599.3,1144.7 1600.3,1149.7 1601.3,1148.4 1602.3,1147.9 1603.4,1154.3 1604.4,1146.2 1605.4,1146.5 1606.4,1152.8 1607.4,1143.7 1608.4,1141.8 1609.4,1152.9 1610.4,1149.2 1611.5,1150.2 1612.5,1150.3 1613.5,1151.3 1614.5,1146.1 1615.5,1147.6 1616.5,1143.6 1617.5,1148.4 1618.5,1148.7 1619.6,1146.1 1620.6,1150.3 1621.6,1159.0 1622.6,1143.4 1623.6,1150.9 1624.6,1151.3 1625.6,1151.8 1626.6,1144.7 1627.7,1152.3 1628.7,1150.2 1629.7,1147.2 1630.7,1146.4 1631.7,1148.6 1632.7,1151.2 1633.7,1151.0 1634.7,1156.3 1635.8,1146.3 1636.8,1150.0 1637.8,1146.0 1638.8,1150.6 1639.8,1148.1 1640.8,1145.3 1641.8,1142.5 1642.8,1144.6 1643.9,1148.4 1644.9,1153.1 1645.9,1150.4 1646.9,1142.9 1647.9,1145.5 1648.9,1147.5 1649.9,1146.8 1651.0,1147.5 1652.0,1150.1 1653.0,1147.9 1654.0,1144.4 1655.0,1139.7 1656.0,1145.7 1657.0,1140.5 1658.0,1146.2 1659.1,1148.0 1660.1,1141.7 1661.1,1146.1 1662.1,1145.3 1663.1,1153.8 1664.1,1148.2 1665.1,1139.3 1666.1,1148.1 1667.2,1147.9 1668.2,1145.6 1669.2,1144.9 1670.2,1148.5 1671.2,1148.7 1672.2,1147.8 1673.2,1142.4 1674.2,1145.2 1675.3,1140.2 1676.3,1140.4 1677.3,1143.9 1678.3,1142.0 1679.3,1144.4 1680.3,1155.4 1681.3,1147.8 1682.3,1142.5 1683.4,1137.6 1684.4,1142.6 1685.4,1140.3 1686.4,1137.4 1687.4,1148.4 1688.4,1143.8 1689.4,1147.3 1690.4,1157.4 1691.5,1146.6 1692.5,1146.0 1693.5,1146.9 1694.5,1144.5 1695.5,1142.4 1696.5,1144.7 1697.5,1149.8 1698.5,1144.5 1699.6,1140.3 1700.6,1140.7 1701.6,1141.5 1702.6,1145.5 1703.6,1147.3 1704.6,1147.3 1705.6,1149.9 1706.6,1144.7 1707.7,1148.6 1708.7,1146.7 1709.7,1148.1 1710.7,1138.5 1711.7,1150.2 1712.7,1139.6 1713.7,1141.2 1714.7,1148.5 1715.8,1144.0 1716.8,1152.2 1717.8,1146.1 1718.8,1141.6" fill="none" stroke="#FF3D3F" stroke-width="5.0" stroke-linejoin="round" clip-path="url(#cc)"/>
<rect x="807.9" y="925.4" width="908.90" height="734.20" fill="none" stroke="#000" stroke-width="4.5"/>
<line x1="807.90" y1="1659.60" x2="807.90" y2="1672.50" stroke="#000" stroke-width="4.5" stroke-linecap="butt"/>
<text x="807.80" y="1721.80" font-family='"Liberation Sans", Arial, sans-serif' font-size="50.0" text-anchor="middle" fill="#000" font-weight="normal" stroke="#000" stroke-width="0.55" >3460</text>
<line x1="1009.88" y1="1659.60" x2="1009.88" y2="1672.50" stroke="#000" stroke-width="4.5" stroke-linecap="butt"/>
<text x="1009.78" y="1721.80" font-family='"Liberation Sans", Arial, sans-serif' font-size="50.0" text-anchor="middle" fill="#000" font-weight="normal" stroke="#000" stroke-width="0.55" >3480</text>
<line x1="1211.86" y1="1659.60" x2="1211.86" y2="1672.50" stroke="#000" stroke-width="4.5" stroke-linecap="butt"/>
<text x="1211.76" y="1721.80" font-family='"Liberation Sans", Arial, sans-serif' font-size="50.0" text-anchor="middle" fill="#000" font-weight="normal" stroke="#000" stroke-width="0.55" >3500</text>
<line x1="1413.83" y1="1659.60" x2="1413.83" y2="1672.50" stroke="#000" stroke-width="4.5" stroke-linecap="butt"/>
<text x="1413.73" y="1721.80" font-family='"Liberation Sans", Arial, sans-serif' font-size="50.0" text-anchor="middle" fill="#000" font-weight="normal" stroke="#000" stroke-width="0.55" >3520</text>
<line x1="1615.81" y1="1659.60" x2="1615.81" y2="1672.50" stroke="#000" stroke-width="4.5" stroke-linecap="butt"/>
<text x="1615.71" y="1721.80" font-family='"Liberation Sans", Arial, sans-serif' font-size="50.0" text-anchor="middle" fill="#000" font-weight="normal" stroke="#000" stroke-width="0.55" >3540</text>
<line x1="908.89" y1="1659.60" x2="908.89" y2="1664.70" stroke="#000" stroke-width="4.5" stroke-linecap="butt"/>
<line x1="1110.87" y1="1659.60" x2="1110.87" y2="1664.70" stroke="#000" stroke-width="4.5" stroke-linecap="butt"/>
<line x1="1312.84" y1="1659.60" x2="1312.84" y2="1664.70" stroke="#000" stroke-width="4.5" stroke-linecap="butt"/>
<line x1="1514.82" y1="1659.60" x2="1514.82" y2="1664.70" stroke="#000" stroke-width="4.5" stroke-linecap="butt"/>
<line x1="1716.80" y1="1659.60" x2="1716.80" y2="1664.70" stroke="#000" stroke-width="4.5" stroke-linecap="butt"/>
<text x="16.89" y="83.28" font-family='"Liberation Serif", "Times New Roman", serif' font-size="65.16" font-weight="bold" fill="#000" textLength="79.03" lengthAdjust="spacingAndGlyphs">(a)</text>
<text x="249.26" y="843.61" font-family='"Liberation Sans", Arial, sans-serif' font-size="48.87" font-weight="normal" fill="#000" stroke="#000" stroke-width="0.55" textLength="124.93" lengthAdjust="spacingAndGlyphs">Blank</text>
<text x="467.49" y="850.20" font-family='"Liberation Sans", Arial, sans-serif' font-size="50.83" font-weight="normal" fill="#000" stroke="#000" stroke-width="0.55" textLength="48.29" lengthAdjust="spacingAndGlyphs">KI</text>
<text x="601.84" y="850.71" font-family='"Liberation Sans", Arial, sans-serif' font-size="51.58" font-weight="normal" fill="#000" stroke="#000" stroke-width="0.55" textLength="163.90" lengthAdjust="spacingAndGlyphs">t-BuOH</text>
<text x="804.63" y="850.05" font-family='"Liberation Sans", Arial, sans-serif' font-size="49.42" font-weight="normal" fill="#000" stroke="#000" stroke-width="0.55" textLength="133.93" lengthAdjust="spacingAndGlyphs">AgNO</text>
<text x="937.78" y="861.50" font-family='"Liberation Sans", Arial, sans-serif' font-size="33.26" font-weight="normal" fill="#000" stroke="#000" stroke-width="0.55" textLength="18.29" lengthAdjust="spacingAndGlyphs">3</text>
<text x="1014.55" y="843.95" font-family='"Liberation Sans", Arial, sans-serif' font-size="49.00" font-weight="normal" fill="#000" stroke="#000" stroke-width="0.55" textLength="71.48" lengthAdjust="spacingAndGlyphs">BQ</text>
<text x="863.18" y="112.71" font-family='"Liberation Sans", Arial, sans-serif' font-size="48.79" font-weight="normal" fill="#000" stroke="#000" stroke-width="0.55" textLength="262.08" lengthAdjust="spacingAndGlyphs">Ce/Bi/BiOCl</text>
<text transform="translate(122.40,659.16) rotate(-90)" font-family='"Liberation Sans", Arial, sans-serif' font-size="63.77" font-weight="normal" fill="#000" stroke="#000" stroke-width="0.55" textLength="469.40" lengthAdjust="spacingAndGlyphs">Degradation (%)</text>
<text x="1153.58" y="85.43" font-family='"Liberation Serif", "Times New Roman", serif' font-size="62.25" font-weight="bold" fill="#000" textLength="82.85" lengthAdjust="spacingAndGlyphs">(b)</text>
<text x="1269.11" y="109.50" font-family='"Liberation Sans", Arial, sans-serif' font-size="50.01" font-weight="normal" fill="#000" stroke="#000" stroke-width="0.55" textLength="217.66" lengthAdjust="spacingAndGlyphs">DMPO-·O</text>
<text x="1486.55" y="121.90" font-family='"Liberation Sans", Arial, sans-serif' font-size="34.04" font-weight="normal" fill="#000" stroke="#000" stroke-width="0.55" textLength="18.97" lengthAdjust="spacingAndGlyphs">2</text>
<text x="1503.60" y="88.40" font-family='"Liberation Sans", Arial, sans-serif' font-size="32.00" font-weight="normal" fill="#000" stroke="#000" stroke-width="0.55" textLength="14.56" lengthAdjust="spacingAndGlyphs">-</text>
<text x="1598.15" y="900.73" font-family='"Liberation Sans", Arial, sans-serif' font-size="58.99" font-weight="normal" fill="#000" stroke="#000" stroke-width="0.55" textLength="236.66" lengthAdjust="spacingAndGlyphs">Field [G]</text>
<text transform="translate(1232.23,592.13) rotate(-90)" font-family='"Liberation Sans", Arial, sans-serif' font-size="62.06" font-weight="normal" fill="#000" stroke="#000" stroke-width="0.55" textLength="398.67" lengthAdjust="spacingAndGlyphs">Intensity (a.u.)</text>
<text x="1922.95" y="251.90" font-family='"Liberation Sans", Arial, sans-serif' font-size="44.00" font-weight="normal" fill="#FF3333" stroke="#FF3333" stroke-width="0.55" textLength="241.46" lengthAdjust="spacingAndGlyphs">Ce/Bi/BiOCl</text>
<text x="1983.40" y="488.20" font-family='"Liberation Sans", Arial, sans-serif' font-size="44.00" font-weight="normal" fill="#A61EFF" stroke="#A61EFF" stroke-width="0.55" textLength="169.93" lengthAdjust="spacingAndGlyphs">Ce MOF</text>
<text x="1989.40" y="638.15" font-family='"Liberation Sans", Arial, sans-serif' font-size="44.00" font-weight="normal" fill="#00A2FF" stroke="#00A2FF" stroke-width="0.55" textLength="173.94" lengthAdjust="spacingAndGlyphs">Bi/BiOCl</text>
<text x="2009.45" y="720.95" font-family='"Liberation Sans", Arial, sans-serif' font-size="44.00" font-weight="normal" fill="#000" stroke="#000" stroke-width="0.55" textLength="119.38" lengthAdjust="spacingAndGlyphs">BiOCl</text>
<text x="699.39" y="965.04" font-family='"Liberation Serif", "Times New Roman", serif' font-size="63.91" font-weight="bold" fill="#000" textLength="75.54" lengthAdjust="spacingAndGlyphs">(c)</text>
<text x="819.73" y="985.40" font-family='"Liberation Sans", Arial, sans-serif' font-size="49.58" font-weight="normal" fill="#000" stroke="#000" stroke-width="0.55" textLength="255.31" lengthAdjust="spacingAndGlyphs">DMPO-·OH</text>
<text x="1144.51" y="1780.73" font-family='"Liberation Sans", Arial, sans-serif' font-size="58.99" font-weight="normal" fill="#000" stroke="#000" stroke-width="0.55" textLength="236.45" lengthAdjust="spacingAndGlyphs">Field [G]</text>
<text transform="translate(785.53,1470.47) rotate(-90)" font-family='"Liberation Sans", Arial, sans-serif' font-size="60.83" font-weight="normal" fill="#000" stroke="#000" stroke-width="0.55" textLength="397.30" lengthAdjust="spacingAndGlyphs">Intensity (a.u.)</text>
<text x="1467.80" y="1060.35" font-family='"Liberation Sans", Arial, sans-serif' font-size="44.00" font-weight="normal" fill="#FF3333" stroke="#FF3333" stroke-width="0.55" textLength="239.85" lengthAdjust="spacingAndGlyphs">Ce/Bi/BiOCl</text>
<text x="1534.90" y="1324.85" font-family='"Liberation Sans", Arial, sans-serif' font-size="44.00" font-weight="normal" fill="#A61EFF" stroke="#A61EFF" stroke-width="0.55" textLength="168.45" lengthAdjust="spacingAndGlyphs">Ce-MOF</text>
<text x="1540.70" y="1476.75" font-family='"Liberation Sans", Arial, sans-serif' font-size="44.00" font-weight="normal" fill="#00A2FF" stroke="#00A2FF" stroke-width="0.55" textLength="169.82" lengthAdjust="spacingAndGlyphs">Bi/BiOCl</text>
<text x="1559.92" y="1573.45" font-family='"Liberation Sans", Arial, sans-serif' font-size="44.00" font-weight="normal" fill="#000" stroke="#000" stroke-width="0.55" textLength="117.65" lengthAdjust="spacingAndGlyphs">BiOCl</text>
</svg></body></html>
